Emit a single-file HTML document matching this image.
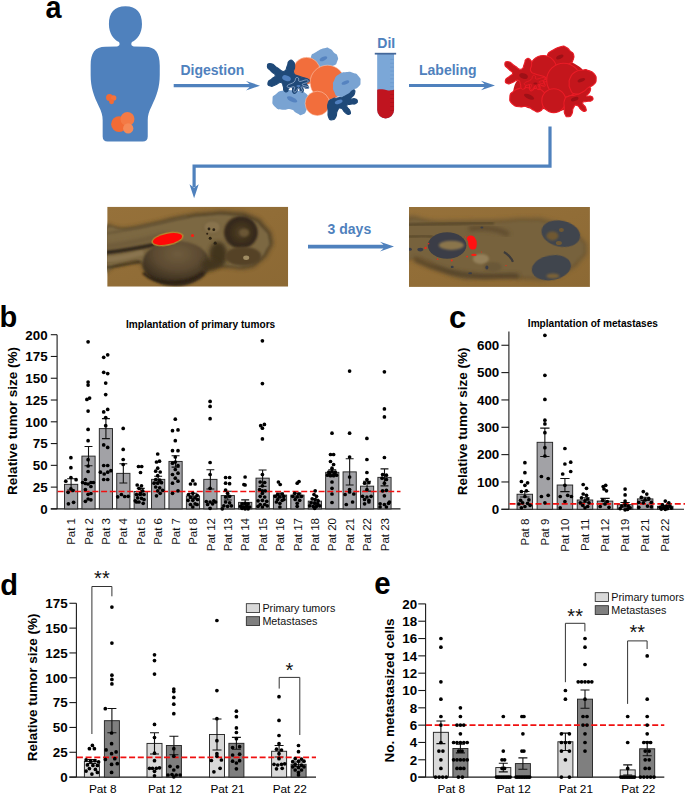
<!DOCTYPE html>
<html><head><meta charset="utf-8"><title>Figure</title>
<style>html,body{margin:0;padding:0;background:#fff;}svg{display:block;font-family:'Liberation Sans', Arial, sans-serif;}</style></head><body>
<svg width="685" height="795" viewBox="0 0 685 795">
<rect width="685" height="795" fill="#fff"/>
<text transform="translate(45.4,17.6) scale(0.93,1)" font-size="31" font-weight="bold" fill="#000">a</text>
<g transform="scale(0.2504)">
<path fill="#4f81bd" d="M 501 25 C 546 25 567 52 567 96 C 567 134 548 158 527 168 C 522 176 524 184 535 186 L 580 187 C 620 188 638 210 638 262 L 638 300 C 638 350 625 385 605 425 C 595 445 590 460 590 480 L 590 545 C 590 558 583 565 570 565 L 430 565 C 417 565 410 558 410 545 L 410 480 C 410 460 405 445 395 425 C 375 385 362 350 362 300 L 362 262 C 362 210 380 188 420 187 L 467 186 C 478 184 480 176 475 168 C 454 158 435 134 435 96 C 435 52 456 25 501 25 Z"/>
<circle cx="475.5" cy="496" r="31.5" fill="#f26b35"/><circle cx="509" cy="475" r="28" fill="#f47a45"/><circle cx="512" cy="513" r="20.5" fill="#f58a58"/>
<circle cx="437.5" cy="389" r="14" fill="#f26b35"/><circle cx="454" cy="391.5" r="10.8" fill="#f3733d"/><circle cx="445.5" cy="406.5" r="9.8" fill="#f26b35"/>
</g>
<path fill="#4f81bd" d="M 173.7 84.10000000000001 L 249.5 84.10000000000001 L 246 80.9 L 260 85.7 L 246 90.5 L 249.5 87.3 L 173.7 87.3 Z"/>
<path fill="#4f81bd" d="M 409 83.9 L 484.5 83.9 L 481 80.7 L 495 85.5 L 481 90.3 L 484.5 87.1 L 409 87.1 Z"/>
<path fill="#4f81bd" d="M 308 244.79999999999998 L 383.5 244.79999999999998 L 380 241.79999999999998 L 394 246.6 L 380 251.4 L 383.5 248.4 L 308 248.4 Z"/>
<text x="180.5" y="75.4" font-size="14" font-weight="bold" fill="#4f81bd" text-anchor="start">Digestion</text>
<text x="419" y="75.3" font-size="14" font-weight="bold" fill="#4f81bd" text-anchor="start">Labeling</text>
<text x="377.3" y="47.8" font-size="14" font-weight="bold" fill="#4f81bd" text-anchor="start">DiI</text>
<text x="327.6" y="234.4" font-size="14" font-weight="bold" fill="#4f81bd" text-anchor="start">3 days</text>
<path fill="none" stroke="#4f81bd" stroke-width="3.2" d="M 550 126.4 L 550 166.2 L 194.1 166.2 L 194.1 187"/>
<path fill="#4f81bd" d="M 194.1 198.3 L 189.5 184.3 L 194.1 187.8 L 198.7 184.3 Z"/>
<g transform="translate(260,40) scale(0.16059)" stroke-linejoin="round">
<path d="M 318.0 102.0 C 324.7 83.0 322.7 91.7 350.0 75.0 C 377.3 58.3 371.7 58.7 400.0 52.0 C 428.3 45.3 414.3 45.7 435.0 55.0 C 455.7 64.3 446.3 65.0 462.0 80.0 C 477.7 95.0 476.0 81.7 482.0 100.0 C 488.0 118.3 489.0 115.0 480.0 135.0 C 471.0 155.0 481.7 147.7 455.0 160.0 C 428.3 172.3 431.7 171.3 400.0 172.0 C 368.3 172.7 383.3 175.3 360.0 162.0 C 336.7 148.7 344.0 152.0 330.0 132.0 C 316.0 112.0 311.3 121.0 318.0 102.0 Z" fill="#79a3d2" />
<ellipse cx="395" cy="117" rx="25" ry="12" fill="#5583c0" transform="rotate(-25 395 117)"/>
<path d="M 78.0 372.0 C 79.7 345.3 76.0 356.0 100.0 337.0 C 124.0 318.0 110.0 322.0 150.0 315.0 C 190.0 308.0 176.7 311.7 220.0 316.0 C 263.3 320.3 252.7 306.7 280.0 328.0 C 307.3 349.3 298.0 346.0 302.0 380.0 C 306.0 414.0 304.3 402.0 292.0 430.0 C 279.7 458.0 285.7 455.3 265.0 464.0 C 244.3 472.7 255.0 466.7 230.0 456.0 C 205.0 445.3 220.0 439.3 190.0 432.0 C 160.0 424.7 171.7 439.0 140.0 434.0 C 108.3 429.0 115.7 437.7 95.0 417.0 C 74.3 396.3 76.3 398.7 78.0 372.0 Z" fill="#79a3d2" />
<ellipse cx="200" cy="370" rx="35" ry="14" fill="#5583c0" transform="rotate(25 200 370)"/>
<circle cx="290" cy="192" r="84" fill="#f26e3c" stroke="#fbd9c8" stroke-width="3"/>
<circle cx="420" cy="265" r="108" fill="#f26e3c" stroke="#fbd9c8" stroke-width="3"/>
<circle cx="357" cy="395" r="76" fill="#f26e3c" stroke="#fbd9c8" stroke-width="3"/>
<path d="M 425.0 392.0 C 433.7 367.7 428.3 377.7 450.0 367.0 C 471.7 356.3 463.3 367.3 490.0 360.0 C 516.7 352.7 508.3 358.3 530.0 345.0 C 551.7 331.7 537.7 332.3 555.0 320.0 C 572.3 307.7 571.0 303.0 582.0 308.0 C 593.0 313.0 593.3 316.0 588.0 335.0 C 582.7 354.0 565.3 354.7 566.0 365.0 C 566.7 375.3 576.7 361.7 590.0 366.0 C 603.3 370.3 604.0 368.0 606.0 378.0 C 608.0 388.0 609.7 388.7 596.0 396.0 C 582.3 403.3 583.7 395.3 565.0 400.0 C 546.3 404.7 541.7 396.7 540.0 410.0 C 538.3 423.3 554.7 422.7 560.0 440.0 C 565.3 457.3 566.0 458.0 556.0 462.0 C 546.0 466.0 547.0 464.3 530.0 452.0 C 513.0 439.7 521.0 429.0 505.0 425.0 C 489.0 421.0 493.0 421.7 482.0 440.0 C 471.0 458.3 482.7 461.0 472.0 480.0 C 461.3 499.0 464.7 496.3 450.0 497.0 C 435.3 497.7 436.7 501.0 428.0 482.0 C 419.3 463.0 425.0 470.0 424.0 440.0 C 423.0 410.0 416.3 416.3 425.0 392.0 Z" fill="#1f4978" stroke="#1f4978" stroke-width="7"/>
<ellipse cx="490" cy="385" rx="25" ry="12" fill="#4f7fbe" transform="rotate(-20 490 385)"/>
<path d="M 462.0 250.0 C 473.7 226.7 464.0 231.7 490.0 215.0 C 516.0 198.3 510.7 203.7 540.0 200.0 C 569.3 196.3 553.3 195.7 578.0 204.0 C 602.7 212.3 598.0 206.3 614.0 225.0 C 630.0 243.7 626.7 237.7 626.0 260.0 C 625.3 282.3 628.7 274.7 612.0 292.0 C 595.3 309.3 600.0 296.0 576.0 312.0 C 552.0 328.0 568.7 326.7 540.0 340.0 C 511.3 353.3 516.0 358.0 490.0 352.0 C 464.0 346.0 473.7 344.3 462.0 322.0 C 450.3 299.7 455.0 309.0 455.0 285.0 C 455.0 261.0 450.3 273.3 462.0 250.0 Z" fill="#79a3d2" />
<ellipse cx="532" cy="265" rx="25" ry="11" fill="#5583c0" transform="rotate(-20 532 265)"/>
<path d="M 46.0 165.0 C 46.0 149.3 48.7 144.7 70.0 148.0 C 91.3 151.3 83.3 159.3 110.0 175.0 C 136.7 190.7 130.0 200.0 150.0 195.0 C 170.0 190.0 160.0 180.7 170.0 160.0 C 180.0 139.3 168.0 142.0 180.0 133.0 C 192.0 124.0 194.0 122.3 206.0 133.0 C 218.0 143.7 214.7 141.0 216.0 165.0 C 217.3 189.0 202.0 185.0 210.0 205.0 C 218.0 225.0 213.3 213.3 240.0 225.0 C 266.7 236.7 268.0 230.0 290.0 240.0 C 312.0 250.0 306.0 245.0 306.0 255.0 C 306.0 265.0 292.0 258.3 290.0 270.0 C 288.0 281.7 300.0 279.3 300.0 290.0 C 300.0 300.7 301.7 302.0 290.0 302.0 C 278.3 302.0 271.7 285.7 265.0 290.0 C 258.3 294.3 273.3 304.3 270.0 315.0 C 266.7 325.7 265.0 327.0 255.0 322.0 C 245.0 317.0 250.0 298.7 240.0 300.0 C 230.0 301.3 236.7 317.3 225.0 326.0 C 213.3 334.7 213.3 336.3 205.0 326.0 C 196.7 315.7 208.3 303.7 200.0 295.0 C 191.7 286.3 190.0 291.7 180.0 300.0 C 170.0 308.3 180.0 314.7 170.0 320.0 C 160.0 325.3 158.3 326.0 150.0 316.0 C 141.7 306.0 151.7 307.0 145.0 290.0 C 138.3 273.0 146.7 268.3 130.0 265.0 C 113.3 261.7 116.7 272.7 95.0 280.0 C 73.3 287.3 80.0 292.0 65.0 287.0 C 50.0 282.0 46.7 280.7 50.0 265.0 C 53.3 249.3 60.0 255.0 75.0 240.0 C 90.0 225.0 96.7 235.0 95.0 220.0 C 93.3 205.0 86.3 213.3 70.0 195.0 C 53.7 176.7 46.0 180.7 46.0 165.0 Z" fill="#1f4978" stroke="#1f4978" stroke-width="7"/>
<ellipse cx="165" cy="238" rx="28" ry="17" fill="#4f7fbe" transform="rotate(20 165 238)"/>
<path d="M 172.0 282.0 C 179.5 273.8 199.9 272.7 212.0 262.0 C 224.1 251.3 217.5 241.6 224.0 236.0 C 230.5 230.4 234.9 232.9 240.0 238.0 C 245.1 243.1 234.3 255.7 246.0 258.0 C 257.7 260.3 278.1 247.1 290.0 248.0 C 301.9 248.9 303.5 255.0 297.0 262.0 C 290.5 269.0 260.8 271.0 262.0 278.0 C 263.2 285.0 294.1 286.4 302.0 292.0 C 309.9 297.6 306.3 302.0 296.0 302.0 C 285.7 302.0 265.5 288.7 258.0 292.0 C 250.5 295.3 265.9 309.5 264.0 316.0 C 262.1 322.5 255.6 324.2 250.0 320.0 C 244.4 315.8 246.5 297.5 240.0 298.0 C 233.5 298.5 229.0 317.3 222.0 322.0 C 215.0 326.7 211.9 325.0 210.0 318.0 C 208.1 311.0 221.0 296.9 214.0 292.0 C 207.0 287.1 189.8 299.3 180.0 297.0 C 170.2 294.7 164.5 290.2 172.0 282.0 Z" fill="#1f4978" stroke="#b5c9e6" stroke-width="4"/>
<ellipse cx="240" cy="286" rx="13" ry="6" fill="#4f7fbe"/>
</g>
<g transform="translate(497.6,38.5) scale(0.15738)" stroke-linejoin="round">
<path d="M 100.0 330.0 C 116.7 256.7 123.3 273.3 200.0 200.0 C 276.7 126.7 240.0 126.7 330.0 110.0 C 420.0 93.3 393.3 103.3 470.0 150.0 C 546.7 196.7 536.7 183.3 560.0 250.0 C 583.3 316.7 583.3 283.3 540.0 350.0 C 496.7 416.7 510.0 416.7 430.0 450.0 C 350.0 483.3 393.3 460.0 300.0 450.0 C 206.7 440.0 216.7 460.0 150.0 420.0 C 83.3 380.0 83.3 403.3 100.0 330.0 Z" fill="#c4161c"/>
<path d="M 318.0 102.0 C 324.7 83.0 322.7 91.7 350.0 75.0 C 377.3 58.3 371.7 58.7 400.0 52.0 C 428.3 45.3 414.3 45.7 435.0 55.0 C 455.7 64.3 446.3 65.0 462.0 80.0 C 477.7 95.0 476.0 81.7 482.0 100.0 C 488.0 118.3 489.0 115.0 480.0 135.0 C 471.0 155.0 481.7 147.7 455.0 160.0 C 428.3 172.3 431.7 171.3 400.0 172.0 C 368.3 172.7 383.3 175.3 360.0 162.0 C 336.7 148.7 344.0 152.0 330.0 132.0 C 316.0 112.0 311.3 121.0 318.0 102.0 Z" fill="#c4161c" stroke="#ea1c26" stroke-width="7"/>
<ellipse cx="395" cy="117" rx="25" ry="12" fill="#9d1016" transform="rotate(-25 395 117)"/>
<path d="M 78.0 372.0 C 79.7 345.3 76.0 356.0 100.0 337.0 C 124.0 318.0 110.0 322.0 150.0 315.0 C 190.0 308.0 176.7 311.7 220.0 316.0 C 263.3 320.3 252.7 306.7 280.0 328.0 C 307.3 349.3 298.0 346.0 302.0 380.0 C 306.0 414.0 304.3 402.0 292.0 430.0 C 279.7 458.0 285.7 455.3 265.0 464.0 C 244.3 472.7 255.0 466.7 230.0 456.0 C 205.0 445.3 220.0 439.3 190.0 432.0 C 160.0 424.7 171.7 439.0 140.0 434.0 C 108.3 429.0 115.7 437.7 95.0 417.0 C 74.3 396.3 76.3 398.7 78.0 372.0 Z" fill="#c4161c" stroke="#ea1c26" stroke-width="7"/>
<ellipse cx="200" cy="370" rx="35" ry="14" fill="#9d1016" transform="rotate(25 200 370)"/>
<circle cx="290" cy="192" r="84" fill="#c4161c" stroke="#ea1c26" stroke-width="7"/>
<circle cx="420" cy="265" r="108" fill="#c4161c" stroke="#ea1c26" stroke-width="7"/>
<circle cx="357" cy="395" r="76" fill="#c4161c" stroke="#ea1c26" stroke-width="7"/>
<path d="M 425.0 392.0 C 433.7 367.7 428.3 377.7 450.0 367.0 C 471.7 356.3 463.3 367.3 490.0 360.0 C 516.7 352.7 508.3 358.3 530.0 345.0 C 551.7 331.7 537.7 332.3 555.0 320.0 C 572.3 307.7 571.0 303.0 582.0 308.0 C 593.0 313.0 593.3 316.0 588.0 335.0 C 582.7 354.0 565.3 354.7 566.0 365.0 C 566.7 375.3 576.7 361.7 590.0 366.0 C 603.3 370.3 604.0 368.0 606.0 378.0 C 608.0 388.0 609.7 388.7 596.0 396.0 C 582.3 403.3 583.7 395.3 565.0 400.0 C 546.3 404.7 541.7 396.7 540.0 410.0 C 538.3 423.3 554.7 422.7 560.0 440.0 C 565.3 457.3 566.0 458.0 556.0 462.0 C 546.0 466.0 547.0 464.3 530.0 452.0 C 513.0 439.7 521.0 429.0 505.0 425.0 C 489.0 421.0 493.0 421.7 482.0 440.0 C 471.0 458.3 482.7 461.0 472.0 480.0 C 461.3 499.0 464.7 496.3 450.0 497.0 C 435.3 497.7 436.7 501.0 428.0 482.0 C 419.3 463.0 425.0 470.0 424.0 440.0 C 423.0 410.0 416.3 416.3 425.0 392.0 Z" fill="#c4161c" stroke="#ea1c26" stroke-width="7"/>
<ellipse cx="490" cy="385" rx="25" ry="12" fill="#9d1016" transform="rotate(-20 490 385)"/>
<path d="M 462.0 250.0 C 473.7 226.7 464.0 231.7 490.0 215.0 C 516.0 198.3 510.7 203.7 540.0 200.0 C 569.3 196.3 553.3 195.7 578.0 204.0 C 602.7 212.3 598.0 206.3 614.0 225.0 C 630.0 243.7 626.7 237.7 626.0 260.0 C 625.3 282.3 628.7 274.7 612.0 292.0 C 595.3 309.3 600.0 296.0 576.0 312.0 C 552.0 328.0 568.7 326.7 540.0 340.0 C 511.3 353.3 516.0 358.0 490.0 352.0 C 464.0 346.0 473.7 344.3 462.0 322.0 C 450.3 299.7 455.0 309.0 455.0 285.0 C 455.0 261.0 450.3 273.3 462.0 250.0 Z" fill="#c4161c" stroke="#ea1c26" stroke-width="7"/>
<ellipse cx="532" cy="265" rx="25" ry="11" fill="#9d1016" transform="rotate(-20 532 265)"/>
<path d="M 46.0 165.0 C 46.0 149.3 48.7 144.7 70.0 148.0 C 91.3 151.3 83.3 159.3 110.0 175.0 C 136.7 190.7 130.0 200.0 150.0 195.0 C 170.0 190.0 160.0 180.7 170.0 160.0 C 180.0 139.3 168.0 142.0 180.0 133.0 C 192.0 124.0 194.0 122.3 206.0 133.0 C 218.0 143.7 214.7 141.0 216.0 165.0 C 217.3 189.0 202.0 185.0 210.0 205.0 C 218.0 225.0 213.3 213.3 240.0 225.0 C 266.7 236.7 268.0 230.0 290.0 240.0 C 312.0 250.0 306.0 245.0 306.0 255.0 C 306.0 265.0 292.0 258.3 290.0 270.0 C 288.0 281.7 300.0 279.3 300.0 290.0 C 300.0 300.7 301.7 302.0 290.0 302.0 C 278.3 302.0 271.7 285.7 265.0 290.0 C 258.3 294.3 273.3 304.3 270.0 315.0 C 266.7 325.7 265.0 327.0 255.0 322.0 C 245.0 317.0 250.0 298.7 240.0 300.0 C 230.0 301.3 236.7 317.3 225.0 326.0 C 213.3 334.7 213.3 336.3 205.0 326.0 C 196.7 315.7 208.3 303.7 200.0 295.0 C 191.7 286.3 190.0 291.7 180.0 300.0 C 170.0 308.3 180.0 314.7 170.0 320.0 C 160.0 325.3 158.3 326.0 150.0 316.0 C 141.7 306.0 151.7 307.0 145.0 290.0 C 138.3 273.0 146.7 268.3 130.0 265.0 C 113.3 261.7 116.7 272.7 95.0 280.0 C 73.3 287.3 80.0 292.0 65.0 287.0 C 50.0 282.0 46.7 280.7 50.0 265.0 C 53.3 249.3 60.0 255.0 75.0 240.0 C 90.0 225.0 96.7 235.0 95.0 220.0 C 93.3 205.0 86.3 213.3 70.0 195.0 C 53.7 176.7 46.0 180.7 46.0 165.0 Z" fill="#c4161c" stroke="#ea1c26" stroke-width="7"/>
<ellipse cx="165" cy="238" rx="28" ry="17" fill="#9d1016" transform="rotate(20 165 238)"/>
<path d="M 172.0 282.0 C 179.5 273.8 199.9 272.7 212.0 262.0 C 224.1 251.3 217.5 241.6 224.0 236.0 C 230.5 230.4 234.9 232.9 240.0 238.0 C 245.1 243.1 234.3 255.7 246.0 258.0 C 257.7 260.3 278.1 247.1 290.0 248.0 C 301.9 248.9 303.5 255.0 297.0 262.0 C 290.5 269.0 260.8 271.0 262.0 278.0 C 263.2 285.0 294.1 286.4 302.0 292.0 C 309.9 297.6 306.3 302.0 296.0 302.0 C 285.7 302.0 265.5 288.7 258.0 292.0 C 250.5 295.3 265.9 309.5 264.0 316.0 C 262.1 322.5 255.6 324.2 250.0 320.0 C 244.4 315.8 246.5 297.5 240.0 298.0 C 233.5 298.5 229.0 317.3 222.0 322.0 C 215.0 326.7 211.9 325.0 210.0 318.0 C 208.1 311.0 221.0 296.9 214.0 292.0 C 207.0 287.1 189.8 299.3 180.0 297.0 C 170.2 294.7 164.5 290.2 172.0 282.0 Z" fill="#c4161c" stroke="#ea1c26" stroke-width="5"/>
<ellipse cx="240" cy="286" rx="13" ry="6" fill="#9d1016"/>
</g>
<g transform="translate(360,30) scale(0.1606)">
<path fill="#7ba7d7" d="M 107 150 L 212 150 L 212 498 A 52.5 52.5 0 0 1 107 498 Z"/>
<path fill="#c0141f" d="M 107 372 C 130 366 150 372 175 376 C 195 380 205 374 212 370 L 212 498 A 52.5 52.5 0 0 1 107 498 Z"/>
<rect x="188" y="180.0" width="22" height="4" fill="#6391c9" opacity="0.8"/>
<rect x="188" y="204.5" width="22" height="4" fill="#6391c9" opacity="0.8"/>
<rect x="188" y="229.0" width="22" height="4" fill="#6391c9" opacity="0.8"/>
<rect x="188" y="253.5" width="22" height="4" fill="#6391c9" opacity="0.8"/>
<rect x="188" y="278.0" width="22" height="4" fill="#6391c9" opacity="0.8"/>
<rect x="188" y="302.5" width="22" height="4" fill="#6391c9" opacity="0.8"/>
<rect x="188" y="327.0" width="22" height="4" fill="#6391c9" opacity="0.8"/>
<rect x="188" y="351.5" width="22" height="4" fill="#6391c9" opacity="0.8"/>
<rect x="188" y="376.0" width="22" height="4" fill="#a20f17" opacity="0.8"/>
<rect x="188" y="400.5" width="22" height="4" fill="#a20f17" opacity="0.8"/>
<rect x="188" y="425.0" width="22" height="4" fill="#a20f17" opacity="0.8"/>
<rect x="188" y="449.5" width="22" height="4" fill="#a20f17" opacity="0.8"/>
<rect x="188" y="474.0" width="22" height="4" fill="#a20f17" opacity="0.8"/>
<rect x="188" y="498.5" width="22" height="4" fill="#a20f17" opacity="0.8"/>
<rect x="92" y="142" width="133" height="11" fill="#44689a"/>
</g>
<defs>
<filter id="f05" x="-30%" y="-30%" width="160%" height="160%"><feGaussianBlur stdDeviation="0.5"/></filter>
<filter id="f08" x="-30%" y="-30%" width="160%" height="160%"><feGaussianBlur stdDeviation="0.8"/></filter>
<filter id="f12" x="-30%" y="-30%" width="160%" height="160%"><feGaussianBlur stdDeviation="1.2"/></filter>
<filter id="f2" x="-30%" y="-30%" width="160%" height="160%"><feGaussianBlur stdDeviation="2.0"/></filter>
<filter id="f3" x="-30%" y="-30%" width="160%" height="160%"><feGaussianBlur stdDeviation="3.0"/></filter>
<filter id="f5" x="-30%" y="-30%" width="160%" height="160%"><feGaussianBlur stdDeviation="5.0"/></filter>
<clipPath id="cpL"><rect x="0" y="0" width="181" height="80"/></clipPath>
<radialGradient id="yolk" cx="0.52" cy="0.3" r="0.74"><stop offset="0" stop-color="#6f5c3d"/><stop offset="0.45" stop-color="#5d4b32"/><stop offset="0.78" stop-color="#403322"/><stop offset="1" stop-color="#282015"/></radialGradient>
<radialGradient id="eye" cx="0.52" cy="0.5" r="0.52"><stop offset="0" stop-color="#54422a"/><stop offset="0.5" stop-color="#3f311c"/><stop offset="0.85" stop-color="#33271a"/><stop offset="1" stop-color="#4a3a24"/></radialGradient>
<linearGradient id="bgL" x1="0" y1="0" x2="1" y2="1"><stop offset="0" stop-color="#96713a"/><stop offset="1" stop-color="#8c6934"/></linearGradient>
</defs>
<g transform="translate(107.2,206.7)"><g clip-path="url(#cpL)">
<rect width="181" height="80" fill="url(#bgL)"/>
<path d="M -8.0 24.0 C 1.3 10.0 2.3 23.7 20.0 21.0 C 37.7 18.3 26.7 20.0 45.0 16.0 C 63.3 12.0 56.7 12.5 75.0 9.0 C 93.3 5.5 83.3 6.8 100.0 5.5 C 116.7 4.2 110.0 3.8 125.0 5.0 C 140.0 6.2 134.0 4.3 145.0 9.0 C 156.0 13.7 151.3 11.3 158.0 19.0 C 164.7 26.7 163.7 23.7 165.0 32.0 C 166.3 40.3 166.0 36.3 162.0 44.0 C 158.0 51.7 160.3 49.2 153.0 55.0 C 145.7 60.8 150.3 59.5 140.0 61.5 C 129.7 63.5 132.7 61.5 122.0 61.0 C 111.3 60.5 116.0 58.3 108.0 60.0 C 100.0 61.7 105.7 61.3 98.0 66.0 C 90.3 70.7 95.0 70.0 85.0 74.0 C 75.0 78.0 79.7 78.0 68.0 78.0 C 56.3 78.0 60.0 78.7 50.0 74.0 C 40.0 69.3 44.7 70.0 38.0 64.0 C 31.3 58.0 39.3 57.7 30.0 56.0 C 20.7 54.3 22.7 56.7 10.0 59.0 C -2.7 61.3 -2.0 74.7 -8.0 63.0 C -14.0 51.3 -17.3 38.0 -8.0 24.0 Z" fill="#4e3f28" filter="url(#f2)" opacity="0.9"/>
<path d="M -8.0 24.0 C 1.3 10.0 2.3 23.7 20.0 21.0 C 37.7 18.3 26.7 20.0 45.0 16.0 C 63.3 12.0 56.7 12.5 75.0 9.0 C 93.3 5.5 83.3 6.8 100.0 5.5 C 116.7 4.2 110.0 3.8 125.0 5.0 C 140.0 6.2 134.0 4.3 145.0 9.0 C 156.0 13.7 151.3 11.3 158.0 19.0 C 164.7 26.7 163.7 23.7 165.0 32.0 C 166.3 40.3 166.0 36.3 162.0 44.0 C 158.0 51.7 160.3 49.2 153.0 55.0 C 145.7 60.8 150.3 59.5 140.0 61.5 C 129.7 63.5 132.7 61.5 122.0 61.0 C 111.3 60.5 116.0 58.3 108.0 60.0 C 100.0 61.7 105.7 61.3 98.0 66.0 C 90.3 70.7 95.0 70.0 85.0 74.0 C 75.0 78.0 79.7 78.0 68.0 78.0 C 56.3 78.0 60.0 78.7 50.0 74.0 C 40.0 69.3 44.7 70.0 38.0 64.0 C 31.3 58.0 39.3 57.7 30.0 56.0 C 20.7 54.3 22.7 56.7 10.0 59.0 C -2.7 61.3 -2.0 74.7 -8.0 63.0 C -14.0 51.3 -17.3 38.0 -8.0 24.0 Z" fill="#7b6743" filter="url(#f12)" transform="translate(83,40) scale(0.96,0.9) translate(-83,-40)"/>
<path d="M -3 46 C 15 44 32 41 52 37" stroke="#33281a" stroke-width="4.2" fill="none" filter="url(#f12)"/>
<path d="M -3 40 C 20 38 40 33 60 27" stroke="#6a5738" stroke-width="4" fill="none" filter="url(#f2)"/>
<path d="M -3 53 C 12 52 25 49 36 46" stroke="#8a7550" stroke-width="5" fill="none" filter="url(#f12)"/>
<path d="M -3 61 C 10 60 22 57 33 55" stroke="#3d301c" stroke-width="1.8" fill="none" filter="url(#f08)"/>
<path d="M -3 27 C 25 23 50 17 80 10" stroke="#6b5838" stroke-width="2" fill="none" filter="url(#f12)"/>
<ellipse cx="69" cy="56.5" rx="33.5" ry="22.5" fill="url(#yolk)" filter="url(#f12)"/>
<path d="M 36 66 C 48 78 78 80 96 66" stroke="#2e2414" stroke-width="3" fill="none" filter="url(#f12)"/>
<ellipse cx="111" cy="48" rx="9" ry="13" fill="#42341f" filter="url(#f2)"/>
<ellipse cx="103" cy="58" rx="8" ry="6" fill="#42341f" filter="url(#f2)"/>
<ellipse cx="133.6" cy="25.7" rx="17" ry="16.4" fill="url(#eye)" filter="url(#f08)"/>
<ellipse cx="137" cy="26" rx="5" ry="4" fill="#6a5636" filter="url(#f12)"/>
<ellipse cx="136" cy="49.5" rx="18" ry="9.5" fill="#554227" filter="url(#f12)"/>
<ellipse cx="139" cy="51" rx="3" ry="2.2" fill="#a08c63" filter="url(#f05)"/>
<ellipse cx="105" cy="20.5" rx="8.5" ry="6.5" fill="#88734e" stroke="#6a5738" stroke-width="0.8" filter="url(#f08)"/>
<circle cx="101.8" cy="22.3" r="1.4" fill="#2a2012" filter="url(#f05)"/>
<circle cx="106.6" cy="23" r="1.4" fill="#2a2012" filter="url(#f05)"/>
<circle cx="103" cy="31.5" r="1.5" fill="#2a2012" filter="url(#f05)"/>
<circle cx="108" cy="36.5" r="1.6" fill="#2a2012" filter="url(#f05)"/>
<circle cx="100" cy="27" r="1" fill="#2a2012" filter="url(#f05)"/>
<ellipse cx="60.3" cy="32.3" rx="16.3" ry="6.6" fill="#b9852f" transform="rotate(-12 60.3 32.3)" filter="url(#f05)"/>
<ellipse cx="60.3" cy="32.3" rx="14.8" ry="5.2" fill="#ff0808" transform="rotate(-12 60.3 32.3)"/>
<circle cx="85.3" cy="28.7" r="1.5" fill="#ff1a10"/>
</g></g>
<g transform="translate(408.9,206.9)"><g clip-path="url(#cpL)">
<rect width="181" height="80" fill="url(#bgL)"/>
<path d="M -8.0 14.0 C 4.7 2.2 7.3 13.8 30.0 13.5 C 52.7 13.2 40.0 13.3 60.0 13.0 C 80.0 12.7 70.0 13.2 90.0 12.5 C 110.0 11.8 103.3 10.8 120.0 11.0 C 136.7 11.2 127.3 10.0 140.0 13.0 C 152.7 16.0 147.3 14.3 158.0 20.0 C 168.7 25.7 165.3 22.7 172.0 30.0 C 178.7 37.3 178.0 34.0 178.0 42.0 C 178.0 50.0 178.0 46.7 172.0 54.0 C 166.0 61.3 170.7 58.0 160.0 64.0 C 149.3 70.0 153.3 69.0 140.0 72.0 C 126.7 75.0 135.0 73.3 120.0 73.0 C 105.0 72.7 111.7 71.3 95.0 71.0 C 78.3 70.7 85.0 72.0 70.0 72.0 C 55.0 72.0 63.3 74.3 50.0 71.0 C 36.7 67.7 43.3 68.3 30.0 62.0 C 16.7 55.7 22.7 56.3 10.0 52.0 C -2.7 47.7 -2.0 61.7 -8.0 49.0 C -14.0 36.3 -20.7 25.8 -8.0 14.0 Z" fill="#6a5635" filter="url(#f2)" opacity="0.85"/>
<path d="M -8.0 14.0 C 4.7 2.2 7.3 13.8 30.0 13.5 C 52.7 13.2 40.0 13.3 60.0 13.0 C 80.0 12.7 70.0 13.2 90.0 12.5 C 110.0 11.8 103.3 10.8 120.0 11.0 C 136.7 11.2 127.3 10.0 140.0 13.0 C 152.7 16.0 147.3 14.3 158.0 20.0 C 168.7 25.7 165.3 22.7 172.0 30.0 C 178.7 37.3 178.0 34.0 178.0 42.0 C 178.0 50.0 178.0 46.7 172.0 54.0 C 166.0 61.3 170.7 58.0 160.0 64.0 C 149.3 70.0 153.3 69.0 140.0 72.0 C 126.7 75.0 135.0 73.3 120.0 73.0 C 105.0 72.7 111.7 71.3 95.0 71.0 C 78.3 70.7 85.0 72.0 70.0 72.0 C 55.0 72.0 63.3 74.3 50.0 71.0 C 36.7 67.7 43.3 68.3 30.0 62.0 C 16.7 55.7 22.7 56.3 10.0 52.0 C -2.7 47.7 -2.0 61.7 -8.0 49.0 C -14.0 36.3 -20.7 25.8 -8.0 14.0 Z" fill="#77623c" filter="url(#f12)" transform="translate(88,42) scale(0.96,0.88) translate(-88,-42)"/>
<path d="M -3 18 C 30 17 60 16 85 16" stroke="#5a482b" stroke-width="3" fill="none" filter="url(#f12)"/>
<path d="M -3 30 C 10 29 18 28 24 30" stroke="#5a482b" stroke-width="2.5" fill="none" filter="url(#f12)"/>
<path d="M 5 52 C 25 62 45 68 70 69 C 85 70 100 68 110 69" stroke="#4e3e25" stroke-width="4" fill="none" filter="url(#f2)"/>
<path d="M 60 22 C 75 20 90 22 100 28" stroke="#5f4c2e" stroke-width="5" fill="none" filter="url(#f2)"/>
<ellipse cx="72" cy="52" rx="8" ry="5" fill="#94805a" filter="url(#f12)"/>
<ellipse cx="84" cy="60" rx="9" ry="5" fill="#6b5838" filter="url(#f12)"/>
<path d="M 95 45 C 99 47 103 52 104 55" stroke="#3c3a3a" stroke-width="2.2" fill="none" filter="url(#f05)"/>
<ellipse cx="38.2" cy="38.6" rx="19.3" ry="13.2" fill="#3a3d46" filter="url(#f05)"/>
<ellipse cx="42.5" cy="38.4" rx="12.5" ry="4.6" fill="#8a744b" filter="url(#f08)"/>
<ellipse cx="1" cy="42.4" rx="2" ry="1.5" fill="#3a3d46" filter="url(#f05)"/>
<ellipse cx="11.4" cy="42.7" rx="3" ry="1.8" fill="#3a3d46" filter="url(#f05)"/>
<ellipse cx="43.3" cy="60" rx="1.5" ry="1.2" fill="#3a3d46" filter="url(#f05)"/>
<ellipse cx="73" cy="20.5" rx="1.5" ry="1" fill="#3a3d46" filter="url(#f05)"/>
<ellipse cx="78" cy="60.7" rx="1.5" ry="2" fill="#3a3d46" filter="url(#f05)"/>
<ellipse cx="61.3" cy="66.3" rx="2" ry="1" fill="#3a3d46" filter="url(#f05)"/>
<ellipse cx="151.9" cy="26.8" rx="19.6" ry="13" fill="#40444d" transform="rotate(12 151.9 26.8)" filter="url(#f05)"/>
<ellipse cx="143.5" cy="29" rx="6" ry="4.5" fill="#6f5933" filter="url(#f08)"/>
<ellipse cx="152.5" cy="23" rx="2.5" ry="2" fill="#6f5933" filter="url(#f05)"/>
<ellipse cx="150" cy="36" rx="3" ry="2" fill="#6f5933" filter="url(#f05)"/>
<ellipse cx="142.5" cy="60.8" rx="19.8" ry="12.4" fill="#40444d" transform="rotate(-10 142.5 60.8)" filter="url(#f05)"/>
<ellipse cx="144" cy="69" rx="6.5" ry="2.5" fill="#7a6238" filter="url(#f08)"/>
<path d="M 58.5 30 C 61 27.5 66 28.5 66.5 32 C 68.5 34 68 38 67.5 40 C 67 43 63 43.5 61 41.5 C 59 39 59.5 36 59 34 C 57.5 32.5 57.5 31 58.5 30 Z" fill="#ff1212"/>
<ellipse cx="65" cy="48" rx="2.8" ry="1.1" fill="#ff1a10"/>
<circle cx="16.6" cy="41" r="1.2" fill="#f0281a"/>
<circle cx="19.7" cy="36.9" r="0.8" fill="#f0281a"/>
<circle cx="28.7" cy="52.4" r="0.8" fill="#f0281a"/>
<circle cx="42.9" cy="53.5" r="1.0" fill="#f0281a"/>
<circle cx="58.2" cy="49.7" r="0.9" fill="#f0281a"/>
<circle cx="72.6" cy="45.2" r="0.5" fill="#f0281a"/>
<circle cx="97.1" cy="58.7" r="0.7" fill="#f0281a"/>
<circle cx="56.5" cy="30" r="0.6" fill="#f0281a"/>
</g></g>
<text transform="translate(-0.4,327) scale(0.97,1)" font-size="30" font-weight="bold" fill="#000">b</text>
<text x="200.6" y="327.5" font-size="10.1" font-weight="bold" text-anchor="middle" fill="#000">Implantation of primary tumors</text>
<path d="M 57.1 334.8 L 57.1 508.9" stroke="#1a1a1a" stroke-width="1.1" fill="none"/>
<path d="M 50.800000000000004 508.90 L 57.1 508.90" stroke="#1a1a1a" stroke-width="1.1"/>
<text x="47.6" y="513.70" font-size="13.4" font-weight="bold" text-anchor="end" fill="#000">0</text>
<path d="M 50.800000000000004 487.12 L 57.1 487.12" stroke="#1a1a1a" stroke-width="1.1"/>
<text x="47.6" y="491.92" font-size="13.4" font-weight="bold" text-anchor="end" fill="#000">25</text>
<path d="M 50.800000000000004 465.35 L 57.1 465.35" stroke="#1a1a1a" stroke-width="1.1"/>
<text x="47.6" y="470.15" font-size="13.4" font-weight="bold" text-anchor="end" fill="#000">50</text>
<path d="M 50.800000000000004 443.57 L 57.1 443.57" stroke="#1a1a1a" stroke-width="1.1"/>
<text x="47.6" y="448.37" font-size="13.4" font-weight="bold" text-anchor="end" fill="#000">75</text>
<path d="M 50.800000000000004 421.80 L 57.1 421.80" stroke="#1a1a1a" stroke-width="1.1"/>
<text x="47.6" y="426.60" font-size="13.4" font-weight="bold" text-anchor="end" fill="#000">100</text>
<path d="M 50.800000000000004 400.02 L 57.1 400.02" stroke="#1a1a1a" stroke-width="1.1"/>
<text x="47.6" y="404.82" font-size="13.4" font-weight="bold" text-anchor="end" fill="#000">125</text>
<path d="M 50.800000000000004 378.25 L 57.1 378.25" stroke="#1a1a1a" stroke-width="1.1"/>
<text x="47.6" y="383.05" font-size="13.4" font-weight="bold" text-anchor="end" fill="#000">150</text>
<path d="M 50.800000000000004 356.47 L 57.1 356.47" stroke="#1a1a1a" stroke-width="1.1"/>
<text x="47.6" y="361.27" font-size="13.4" font-weight="bold" text-anchor="end" fill="#000">175</text>
<path d="M 50.800000000000004 334.70 L 57.1 334.70" stroke="#1a1a1a" stroke-width="1.1"/>
<text x="47.6" y="339.50" font-size="13.4" font-weight="bold" text-anchor="end" fill="#000">200</text>
<text transform="translate(17.2,421) rotate(-90)" font-size="13.5" font-weight="bold" text-anchor="middle" fill="#000">Relative tumor size (%)</text>
<path d="M 50.8 508.9 L 400.5 508.9" stroke="#1a1a1a" stroke-width="1.1"/>
<rect x="64.50" y="484.34" width="13.2" height="24.56" fill="#a2a2a6" stroke="#262626" stroke-width="0.95"/>
<path d="M 71.10 478.68 L 71.10 490.00 M 67.14 478.68 L 75.06 478.68 M 67.14 490.00 L 75.06 490.00" stroke="#111" stroke-width="1.1" fill="none"/>
<text transform="translate(75.22,518) rotate(-90)" font-size="11.5" text-anchor="end" fill="#111">Pat 1</text>
<rect x="81.91" y="456.12" width="13.2" height="52.78" fill="#a2a2a6" stroke="#262626" stroke-width="0.95"/>
<path d="M 88.51 446.54 L 88.51 465.70 M 84.55 446.54 L 92.47 446.54 M 84.55 465.70 L 92.47 465.70" stroke="#111" stroke-width="1.1" fill="none"/>
<text transform="translate(92.63,518) rotate(-90)" font-size="11.5" text-anchor="end" fill="#111">Pat 2</text>
<rect x="99.32" y="428.59" width="13.2" height="80.31" fill="#a2a2a6" stroke="#262626" stroke-width="0.95"/>
<path d="M 105.92 418.58 L 105.92 438.61 M 101.96 418.58 L 109.88 418.58 M 101.96 438.61 L 109.88 438.61" stroke="#111" stroke-width="1.1" fill="none"/>
<text transform="translate(110.04,518) rotate(-90)" font-size="11.5" text-anchor="end" fill="#111">Pat 3</text>
<rect x="116.73" y="473.36" width="13.2" height="35.54" fill="#a2a2a6" stroke="#262626" stroke-width="0.95"/>
<path d="M 123.33 463.78 L 123.33 482.94 M 119.37 463.78 L 127.29 463.78 M 119.37 482.94 L 127.29 482.94" stroke="#111" stroke-width="1.1" fill="none"/>
<text transform="translate(127.45,518) rotate(-90)" font-size="11.5" text-anchor="end" fill="#111">Pat 4</text>
<rect x="134.14" y="491.48" width="13.2" height="17.42" fill="#a2a2a6" stroke="#262626" stroke-width="0.95"/>
<path d="M 140.74 488.34 L 140.74 494.62 M 136.78 488.34 L 144.70 488.34 M 136.78 494.62 L 144.70 494.62" stroke="#111" stroke-width="1.1" fill="none"/>
<text transform="translate(144.86,518) rotate(-90)" font-size="11.5" text-anchor="end" fill="#111">Pat 5</text>
<rect x="151.55" y="479.37" width="13.2" height="29.53" fill="#a2a2a6" stroke="#262626" stroke-width="0.95"/>
<path d="M 158.15 476.32 L 158.15 482.42 M 154.19 476.32 L 162.11 476.32 M 154.19 482.42 L 162.11 482.42" stroke="#111" stroke-width="1.1" fill="none"/>
<text transform="translate(162.27,518) rotate(-90)" font-size="11.5" text-anchor="end" fill="#111">Pat 6</text>
<rect x="168.96" y="461.43" width="13.2" height="47.47" fill="#a2a2a6" stroke="#262626" stroke-width="0.95"/>
<path d="M 175.56 455.77 L 175.56 467.09 M 171.60 455.77 L 179.52 455.77 M 171.60 467.09 L 179.52 467.09" stroke="#111" stroke-width="1.1" fill="none"/>
<text transform="translate(179.68,518) rotate(-90)" font-size="11.5" text-anchor="end" fill="#111">Pat 7</text>
<rect x="186.37" y="495.92" width="13.2" height="12.98" fill="#a2a2a6" stroke="#262626" stroke-width="0.95"/>
<path d="M 192.97 493.31 L 192.97 498.54 M 189.01 493.31 L 196.93 493.31 M 189.01 498.54 L 196.93 498.54" stroke="#111" stroke-width="1.1" fill="none"/>
<text transform="translate(197.09,518) rotate(-90)" font-size="11.5" text-anchor="end" fill="#111">Pat 8</text>
<rect x="203.78" y="479.37" width="13.2" height="29.53" fill="#a2a2a6" stroke="#262626" stroke-width="0.95"/>
<path d="M 210.38 469.79 L 210.38 488.95 M 206.42 469.79 L 214.34 469.79 M 206.42 488.95 L 214.34 488.95" stroke="#111" stroke-width="1.1" fill="none"/>
<text transform="translate(214.50,518) rotate(-90)" font-size="11.5" text-anchor="end" fill="#111">Pat 12</text>
<rect x="221.19" y="495.57" width="13.2" height="13.33" fill="#a2a2a6" stroke="#262626" stroke-width="0.95"/>
<path d="M 227.79 491.22 L 227.79 499.93 M 223.83 491.22 L 231.75 491.22 M 223.83 499.93 L 231.75 499.93" stroke="#111" stroke-width="1.1" fill="none"/>
<text transform="translate(231.91,518) rotate(-90)" font-size="11.5" text-anchor="end" fill="#111">Pat 13</text>
<rect x="238.60" y="502.37" width="13.2" height="6.53" fill="#a2a2a6" stroke="#262626" stroke-width="0.95"/>
<path d="M 245.20 499.84 L 245.20 504.89 M 241.24 499.84 L 249.16 499.84 M 241.24 504.89 L 249.16 504.89" stroke="#111" stroke-width="1.1" fill="none"/>
<text transform="translate(249.32,518) rotate(-90)" font-size="11.5" text-anchor="end" fill="#111">Pat 14</text>
<rect x="256.01" y="478.15" width="13.2" height="30.75" fill="#a2a2a6" stroke="#262626" stroke-width="0.95"/>
<path d="M 262.61 469.97 L 262.61 486.34 M 258.65 469.97 L 266.57 469.97 M 258.65 486.34 L 266.57 486.34" stroke="#111" stroke-width="1.1" fill="none"/>
<text transform="translate(266.73,518) rotate(-90)" font-size="11.5" text-anchor="end" fill="#111">Pat 15</text>
<rect x="273.42" y="495.14" width="13.2" height="13.76" fill="#a2a2a6" stroke="#262626" stroke-width="0.95"/>
<path d="M 280.02 493.13 L 280.02 497.14 M 276.06 493.13 L 283.98 493.13 M 276.06 497.14 L 283.98 497.14" stroke="#111" stroke-width="1.1" fill="none"/>
<text transform="translate(284.14,518) rotate(-90)" font-size="11.5" text-anchor="end" fill="#111">Pat 16</text>
<rect x="290.83" y="495.14" width="13.2" height="13.76" fill="#a2a2a6" stroke="#262626" stroke-width="0.95"/>
<path d="M 297.43 493.13 L 297.43 497.14 M 293.47 493.13 L 301.39 493.13 M 293.47 497.14 L 301.39 497.14" stroke="#111" stroke-width="1.1" fill="none"/>
<text transform="translate(301.55,518) rotate(-90)" font-size="11.5" text-anchor="end" fill="#111">Pat 17</text>
<rect x="308.24" y="501.15" width="13.2" height="7.75" fill="#a2a2a6" stroke="#262626" stroke-width="0.95"/>
<path d="M 314.84 499.41 L 314.84 502.89 M 310.88 499.41 L 318.80 499.41 M 310.88 502.89 L 318.80 502.89" stroke="#111" stroke-width="1.1" fill="none"/>
<text transform="translate(318.96,518) rotate(-90)" font-size="11.5" text-anchor="end" fill="#111">Pat 18</text>
<rect x="325.65" y="472.32" width="13.2" height="36.58" fill="#a2a2a6" stroke="#262626" stroke-width="0.95"/>
<path d="M 332.25 469.70 L 332.25 474.93 M 328.29 469.70 L 336.21 469.70 M 328.29 474.93 L 336.21 474.93" stroke="#111" stroke-width="1.1" fill="none"/>
<text transform="translate(336.37,518) rotate(-90)" font-size="11.5" text-anchor="end" fill="#111">Pat 20</text>
<rect x="343.06" y="471.88" width="13.2" height="37.02" fill="#a2a2a6" stroke="#262626" stroke-width="0.95"/>
<path d="M 349.66 458.82 L 349.66 484.95 M 345.70 458.82 L 353.62 458.82 M 345.70 484.95 L 353.62 484.95" stroke="#111" stroke-width="1.1" fill="none"/>
<text transform="translate(353.78,518) rotate(-90)" font-size="11.5" text-anchor="end" fill="#111">Pat 21</text>
<rect x="360.47" y="486.17" width="13.2" height="22.73" fill="#a2a2a6" stroke="#262626" stroke-width="0.95"/>
<path d="M 367.07 481.20 L 367.07 491.13 M 363.11 481.20 L 371.03 481.20 M 363.11 491.13 L 371.03 491.13" stroke="#111" stroke-width="1.1" fill="none"/>
<text transform="translate(371.19,518) rotate(-90)" font-size="11.5" text-anchor="end" fill="#111">Pat 22</text>
<rect x="377.88" y="477.37" width="13.2" height="31.53" fill="#a2a2a6" stroke="#262626" stroke-width="0.95"/>
<path d="M 384.48 468.83 L 384.48 485.91 M 380.52 468.83 L 388.44 468.83 M 380.52 485.91 L 388.44 485.91" stroke="#111" stroke-width="1.1" fill="none"/>
<text transform="translate(388.60,518) rotate(-90)" font-size="11.5" text-anchor="end" fill="#111">Pat 23</text>
<path d="M 57.6 491.5 L 400.5 491.5" stroke="#f01010" stroke-width="1.7" stroke-dasharray="6 2.7" fill="none"/>
<circle cx="70.9" cy="457.7" r="1.85" fill="#000"/>
<circle cx="70.9" cy="467.7" r="1.85" fill="#000"/>
<circle cx="70.9" cy="477.5" r="1.85" fill="#000"/>
<circle cx="65.8" cy="481.2" r="1.85" fill="#000"/>
<circle cx="76.1" cy="479.7" r="1.85" fill="#000"/>
<circle cx="68.1" cy="492.3" r="1.85" fill="#000"/>
<circle cx="72.9" cy="490.5" r="1.85" fill="#000"/>
<circle cx="68.4" cy="503.8" r="1.85" fill="#000"/>
<circle cx="73.6" cy="502.3" r="1.85" fill="#000"/>
<circle cx="70.9" cy="488.8" r="1.85" fill="#000"/>
<circle cx="88.1" cy="341.8" r="1.85" fill="#000"/>
<circle cx="88.1" cy="382.1" r="1.85" fill="#000"/>
<circle cx="88.1" cy="385.1" r="1.85" fill="#000"/>
<circle cx="86.9" cy="399.4" r="1.85" fill="#000"/>
<circle cx="89.6" cy="398.1" r="1.85" fill="#000"/>
<circle cx="88.1" cy="411.1" r="1.85" fill="#000"/>
<circle cx="88.1" cy="429.4" r="1.85" fill="#000"/>
<circle cx="88.1" cy="440.7" r="1.85" fill="#000"/>
<circle cx="88.1" cy="459.7" r="1.85" fill="#000"/>
<circle cx="88.1" cy="466.0" r="1.85" fill="#000"/>
<circle cx="88.1" cy="471.5" r="1.85" fill="#000"/>
<circle cx="85.4" cy="479.5" r="1.85" fill="#000"/>
<circle cx="82.6" cy="482.5" r="1.85" fill="#000"/>
<circle cx="85.4" cy="483.5" r="1.85" fill="#000"/>
<circle cx="88.1" cy="484.0" r="1.85" fill="#000"/>
<circle cx="90.9" cy="482.5" r="1.85" fill="#000"/>
<circle cx="93.4" cy="482.5" r="1.85" fill="#000"/>
<circle cx="90.9" cy="486.5" r="1.85" fill="#000"/>
<circle cx="85.4" cy="489.5" r="1.85" fill="#000"/>
<circle cx="88.1" cy="494.3" r="1.85" fill="#000"/>
<circle cx="90.9" cy="493.5" r="1.85" fill="#000"/>
<circle cx="85.4" cy="501.3" r="1.85" fill="#000"/>
<circle cx="88.1" cy="499.0" r="1.85" fill="#000"/>
<circle cx="90.9" cy="499.8" r="1.85" fill="#000"/>
<circle cx="103.7" cy="357.3" r="1.85" fill="#000"/>
<circle cx="107.7" cy="354.8" r="1.85" fill="#000"/>
<circle cx="103.7" cy="372.3" r="1.85" fill="#000"/>
<circle cx="107.7" cy="373.6" r="1.85" fill="#000"/>
<circle cx="105.7" cy="383.1" r="1.85" fill="#000"/>
<circle cx="105.7" cy="394.6" r="1.85" fill="#000"/>
<circle cx="103.7" cy="411.9" r="1.85" fill="#000"/>
<circle cx="107.7" cy="409.4" r="1.85" fill="#000"/>
<circle cx="105.7" cy="417.6" r="1.85" fill="#000"/>
<circle cx="105.7" cy="425.7" r="1.85" fill="#000"/>
<circle cx="103.7" cy="444.9" r="1.85" fill="#000"/>
<circle cx="107.7" cy="447.4" r="1.85" fill="#000"/>
<circle cx="103.7" cy="465.5" r="1.85" fill="#000"/>
<circle cx="107.7" cy="465.5" r="1.85" fill="#000"/>
<circle cx="100.4" cy="472.2" r="1.85" fill="#000"/>
<circle cx="104.2" cy="474.0" r="1.85" fill="#000"/>
<circle cx="107.7" cy="472.2" r="1.85" fill="#000"/>
<circle cx="110.9" cy="470.7" r="1.85" fill="#000"/>
<circle cx="103.7" cy="479.5" r="1.85" fill="#000"/>
<circle cx="107.7" cy="479.5" r="1.85" fill="#000"/>
<circle cx="123.2" cy="428.4" r="1.85" fill="#000"/>
<circle cx="123.2" cy="449.4" r="1.85" fill="#000"/>
<circle cx="123.2" cy="459.5" r="1.85" fill="#000"/>
<circle cx="123.2" cy="464.5" r="1.85" fill="#000"/>
<circle cx="117.7" cy="496.8" r="1.85" fill="#000"/>
<circle cx="121.4" cy="494.5" r="1.85" fill="#000"/>
<circle cx="124.7" cy="496.5" r="1.85" fill="#000"/>
<circle cx="128.2" cy="496.3" r="1.85" fill="#000"/>
<circle cx="138.5" cy="466.5" r="1.85" fill="#000"/>
<circle cx="141.7" cy="466.5" r="1.85" fill="#000"/>
<circle cx="140.5" cy="472.5" r="1.85" fill="#000"/>
<circle cx="137.2" cy="485.0" r="1.85" fill="#000"/>
<circle cx="141.5" cy="485.8" r="1.85" fill="#000"/>
<circle cx="139.0" cy="488.3" r="1.85" fill="#000"/>
<circle cx="142.7" cy="490.8" r="1.85" fill="#000"/>
<circle cx="136.5" cy="494.5" r="1.85" fill="#000"/>
<circle cx="140.2" cy="494.5" r="1.85" fill="#000"/>
<circle cx="144.0" cy="494.5" r="1.85" fill="#000"/>
<circle cx="137.7" cy="497.8" r="1.85" fill="#000"/>
<circle cx="141.5" cy="498.3" r="1.85" fill="#000"/>
<circle cx="135.2" cy="500.8" r="1.85" fill="#000"/>
<circle cx="139.0" cy="502.0" r="1.85" fill="#000"/>
<circle cx="143.2" cy="503.3" r="1.85" fill="#000"/>
<circle cx="136.5" cy="502.0" r="1.85" fill="#000"/>
<circle cx="140.5" cy="493.3" r="1.85" fill="#000"/>
<circle cx="144.0" cy="499.5" r="1.85" fill="#000"/>
<circle cx="157.7" cy="454.0" r="1.85" fill="#000"/>
<circle cx="156.5" cy="462.0" r="1.85" fill="#000"/>
<circle cx="159.5" cy="461.2" r="1.85" fill="#000"/>
<circle cx="157.7" cy="468.2" r="1.85" fill="#000"/>
<circle cx="155.7" cy="471.2" r="1.85" fill="#000"/>
<circle cx="160.2" cy="472.0" r="1.85" fill="#000"/>
<circle cx="157.7" cy="475.7" r="1.85" fill="#000"/>
<circle cx="155.7" cy="479.5" r="1.85" fill="#000"/>
<circle cx="159.7" cy="480.2" r="1.85" fill="#000"/>
<circle cx="154.0" cy="483.2" r="1.85" fill="#000"/>
<circle cx="157.7" cy="483.2" r="1.85" fill="#000"/>
<circle cx="161.5" cy="482.7" r="1.85" fill="#000"/>
<circle cx="155.7" cy="487.0" r="1.85" fill="#000"/>
<circle cx="159.7" cy="487.8" r="1.85" fill="#000"/>
<circle cx="162.7" cy="490.3" r="1.85" fill="#000"/>
<circle cx="157.7" cy="490.8" r="1.85" fill="#000"/>
<circle cx="156.5" cy="495.8" r="1.85" fill="#000"/>
<circle cx="160.2" cy="493.3" r="1.85" fill="#000"/>
<circle cx="175.3" cy="419.2" r="1.85" fill="#000"/>
<circle cx="172.5" cy="430.7" r="1.85" fill="#000"/>
<circle cx="178.0" cy="429.9" r="1.85" fill="#000"/>
<circle cx="175.3" cy="440.7" r="1.85" fill="#000"/>
<circle cx="172.5" cy="450.7" r="1.85" fill="#000"/>
<circle cx="178.0" cy="450.7" r="1.85" fill="#000"/>
<circle cx="175.3" cy="457.0" r="1.85" fill="#000"/>
<circle cx="172.5" cy="463.2" r="1.85" fill="#000"/>
<circle cx="178.0" cy="465.7" r="1.85" fill="#000"/>
<circle cx="175.3" cy="469.5" r="1.85" fill="#000"/>
<circle cx="172.5" cy="474.5" r="1.85" fill="#000"/>
<circle cx="178.0" cy="473.2" r="1.85" fill="#000"/>
<circle cx="175.3" cy="478.2" r="1.85" fill="#000"/>
<circle cx="172.5" cy="483.2" r="1.85" fill="#000"/>
<circle cx="178.0" cy="481.2" r="1.85" fill="#000"/>
<circle cx="172.5" cy="493.3" r="1.85" fill="#000"/>
<circle cx="178.0" cy="490.8" r="1.85" fill="#000"/>
<circle cx="175.3" cy="462.0" r="1.85" fill="#000"/>
<circle cx="192.8" cy="480.7" r="1.85" fill="#000"/>
<circle cx="190.5" cy="484.0" r="1.85" fill="#000"/>
<circle cx="195.1" cy="484.0" r="1.85" fill="#000"/>
<circle cx="188.5" cy="494.5" r="1.85" fill="#000"/>
<circle cx="192.8" cy="493.3" r="1.85" fill="#000"/>
<circle cx="197.1" cy="495.3" r="1.85" fill="#000"/>
<circle cx="190.5" cy="497.0" r="1.85" fill="#000"/>
<circle cx="195.1" cy="497.8" r="1.85" fill="#000"/>
<circle cx="188.0" cy="500.3" r="1.85" fill="#000"/>
<circle cx="192.8" cy="500.3" r="1.85" fill="#000"/>
<circle cx="197.6" cy="499.5" r="1.85" fill="#000"/>
<circle cx="190.5" cy="504.5" r="1.85" fill="#000"/>
<circle cx="195.1" cy="503.8" r="1.85" fill="#000"/>
<circle cx="192.8" cy="507.0" r="1.85" fill="#000"/>
<circle cx="197.1" cy="504.5" r="1.85" fill="#000"/>
<circle cx="210.1" cy="401.4" r="1.85" fill="#000"/>
<circle cx="210.1" cy="406.4" r="1.85" fill="#000"/>
<circle cx="210.1" cy="418.7" r="1.85" fill="#000"/>
<circle cx="210.1" cy="462.5" r="1.85" fill="#000"/>
<circle cx="210.1" cy="474.5" r="1.85" fill="#000"/>
<circle cx="210.1" cy="488.3" r="1.85" fill="#000"/>
<circle cx="206.3" cy="501.5" r="1.85" fill="#000"/>
<circle cx="210.1" cy="502.0" r="1.85" fill="#000"/>
<circle cx="213.8" cy="500.8" r="1.85" fill="#000"/>
<circle cx="207.6" cy="504.5" r="1.85" fill="#000"/>
<circle cx="212.6" cy="503.8" r="1.85" fill="#000"/>
<circle cx="210.1" cy="508.3" r="1.85" fill="#000"/>
<circle cx="215.6" cy="502.0" r="1.85" fill="#000"/>
<circle cx="225.6" cy="477.5" r="1.85" fill="#000"/>
<circle cx="229.6" cy="477.5" r="1.85" fill="#000"/>
<circle cx="225.6" cy="483.2" r="1.85" fill="#000"/>
<circle cx="229.6" cy="483.7" r="1.85" fill="#000"/>
<circle cx="225.6" cy="490.0" r="1.85" fill="#000"/>
<circle cx="227.6" cy="493.3" r="1.85" fill="#000"/>
<circle cx="225.6" cy="497.0" r="1.85" fill="#000"/>
<circle cx="229.6" cy="496.3" r="1.85" fill="#000"/>
<circle cx="225.6" cy="502.0" r="1.85" fill="#000"/>
<circle cx="229.6" cy="502.8" r="1.85" fill="#000"/>
<circle cx="223.8" cy="505.8" r="1.85" fill="#000"/>
<circle cx="227.6" cy="506.3" r="1.85" fill="#000"/>
<circle cx="231.4" cy="505.8" r="1.85" fill="#000"/>
<circle cx="222.3" cy="508.8" r="1.85" fill="#000"/>
<circle cx="245.1" cy="477.0" r="1.85" fill="#000"/>
<circle cx="245.1" cy="485.0" r="1.85" fill="#000"/>
<circle cx="243.9" cy="484.5" r="1.85" fill="#000"/>
<circle cx="242.1" cy="503.8" r="1.85" fill="#000"/>
<circle cx="245.1" cy="503.3" r="1.85" fill="#000"/>
<circle cx="248.1" cy="503.8" r="1.85" fill="#000"/>
<circle cx="240.6" cy="506.3" r="1.85" fill="#000"/>
<circle cx="243.6" cy="507.0" r="1.85" fill="#000"/>
<circle cx="246.6" cy="506.3" r="1.85" fill="#000"/>
<circle cx="249.6" cy="507.0" r="1.85" fill="#000"/>
<circle cx="245.1" cy="508.8" r="1.85" fill="#000"/>
<circle cx="242.1" cy="508.3" r="1.85" fill="#000"/>
<circle cx="248.1" cy="508.8" r="1.85" fill="#000"/>
<circle cx="262.4" cy="340.8" r="1.85" fill="#000"/>
<circle cx="262.4" cy="383.6" r="1.85" fill="#000"/>
<circle cx="260.7" cy="425.7" r="1.85" fill="#000"/>
<circle cx="264.4" cy="424.4" r="1.85" fill="#000"/>
<circle cx="262.4" cy="428.2" r="1.85" fill="#000"/>
<circle cx="262.4" cy="438.9" r="1.85" fill="#000"/>
<circle cx="262.4" cy="474.5" r="1.85" fill="#000"/>
<circle cx="260.2" cy="482.0" r="1.85" fill="#000"/>
<circle cx="264.7" cy="482.5" r="1.85" fill="#000"/>
<circle cx="262.4" cy="485.8" r="1.85" fill="#000"/>
<circle cx="259.6" cy="489.5" r="1.85" fill="#000"/>
<circle cx="265.2" cy="490.8" r="1.85" fill="#000"/>
<circle cx="262.4" cy="493.3" r="1.85" fill="#000"/>
<circle cx="260.2" cy="496.3" r="1.85" fill="#000"/>
<circle cx="264.7" cy="497.0" r="1.85" fill="#000"/>
<circle cx="258.1" cy="500.8" r="1.85" fill="#000"/>
<circle cx="262.4" cy="500.3" r="1.85" fill="#000"/>
<circle cx="266.7" cy="501.3" r="1.85" fill="#000"/>
<circle cx="260.2" cy="504.5" r="1.85" fill="#000"/>
<circle cx="264.7" cy="504.5" r="1.85" fill="#000"/>
<circle cx="258.1" cy="506.3" r="1.85" fill="#000"/>
<circle cx="262.4" cy="507.0" r="1.85" fill="#000"/>
<circle cx="267.2" cy="505.8" r="1.85" fill="#000"/>
<circle cx="262.4" cy="490.8" r="1.85" fill="#000"/>
<circle cx="278.4" cy="482.0" r="1.85" fill="#000"/>
<circle cx="280.2" cy="484.5" r="1.85" fill="#000"/>
<circle cx="277.7" cy="494.5" r="1.85" fill="#000"/>
<circle cx="282.2" cy="494.0" r="1.85" fill="#000"/>
<circle cx="275.2" cy="496.3" r="1.85" fill="#000"/>
<circle cx="279.7" cy="497.0" r="1.85" fill="#000"/>
<circle cx="283.9" cy="496.3" r="1.85" fill="#000"/>
<circle cx="277.7" cy="499.5" r="1.85" fill="#000"/>
<circle cx="282.2" cy="500.3" r="1.85" fill="#000"/>
<circle cx="279.9" cy="503.3" r="1.85" fill="#000"/>
<circle cx="276.4" cy="502.0" r="1.85" fill="#000"/>
<circle cx="283.9" cy="499.5" r="1.85" fill="#000"/>
<circle cx="279.9" cy="507.0" r="1.85" fill="#000"/>
<circle cx="299.0" cy="481.5" r="1.85" fill="#000"/>
<circle cx="297.2" cy="483.2" r="1.85" fill="#000"/>
<circle cx="294.7" cy="493.3" r="1.85" fill="#000"/>
<circle cx="299.0" cy="494.0" r="1.85" fill="#000"/>
<circle cx="292.7" cy="496.3" r="1.85" fill="#000"/>
<circle cx="297.2" cy="497.0" r="1.85" fill="#000"/>
<circle cx="301.5" cy="496.3" r="1.85" fill="#000"/>
<circle cx="295.2" cy="499.5" r="1.85" fill="#000"/>
<circle cx="299.7" cy="500.3" r="1.85" fill="#000"/>
<circle cx="297.2" cy="503.3" r="1.85" fill="#000"/>
<circle cx="297.2" cy="506.3" r="1.85" fill="#000"/>
<circle cx="315.2" cy="490.8" r="1.85" fill="#000"/>
<circle cx="314.0" cy="494.5" r="1.85" fill="#000"/>
<circle cx="316.5" cy="496.3" r="1.85" fill="#000"/>
<circle cx="312.2" cy="498.8" r="1.85" fill="#000"/>
<circle cx="315.2" cy="499.5" r="1.85" fill="#000"/>
<circle cx="318.2" cy="500.8" r="1.85" fill="#000"/>
<circle cx="311.0" cy="502.8" r="1.85" fill="#000"/>
<circle cx="314.7" cy="503.3" r="1.85" fill="#000"/>
<circle cx="317.7" cy="503.8" r="1.85" fill="#000"/>
<circle cx="309.7" cy="505.8" r="1.85" fill="#000"/>
<circle cx="313.2" cy="506.3" r="1.85" fill="#000"/>
<circle cx="316.5" cy="506.3" r="1.85" fill="#000"/>
<circle cx="319.7" cy="505.8" r="1.85" fill="#000"/>
<circle cx="314.7" cy="508.3" r="1.85" fill="#000"/>
<circle cx="332.0" cy="433.2" r="1.85" fill="#000"/>
<circle cx="330.5" cy="454.5" r="1.85" fill="#000"/>
<circle cx="333.6" cy="454.5" r="1.85" fill="#000"/>
<circle cx="330.5" cy="461.5" r="1.85" fill="#000"/>
<circle cx="333.6" cy="464.5" r="1.85" fill="#000"/>
<circle cx="332.0" cy="468.2" r="1.85" fill="#000"/>
<circle cx="328.8" cy="472.0" r="1.85" fill="#000"/>
<circle cx="332.0" cy="471.2" r="1.85" fill="#000"/>
<circle cx="335.3" cy="472.0" r="1.85" fill="#000"/>
<circle cx="327.5" cy="475.2" r="1.85" fill="#000"/>
<circle cx="330.5" cy="475.7" r="1.85" fill="#000"/>
<circle cx="333.6" cy="475.7" r="1.85" fill="#000"/>
<circle cx="336.6" cy="475.2" r="1.85" fill="#000"/>
<circle cx="332.0" cy="482.0" r="1.85" fill="#000"/>
<circle cx="332.0" cy="488.3" r="1.85" fill="#000"/>
<circle cx="332.0" cy="494.0" r="1.85" fill="#000"/>
<circle cx="332.0" cy="502.5" r="1.85" fill="#000"/>
<circle cx="329.5" cy="473.2" r="1.85" fill="#000"/>
<circle cx="334.6" cy="473.7" r="1.85" fill="#000"/>
<circle cx="349.6" cy="371.1" r="1.85" fill="#000"/>
<circle cx="349.6" cy="433.2" r="1.85" fill="#000"/>
<circle cx="349.6" cy="457.0" r="1.85" fill="#000"/>
<circle cx="349.6" cy="477.0" r="1.85" fill="#000"/>
<circle cx="349.6" cy="489.5" r="1.85" fill="#000"/>
<circle cx="345.1" cy="494.5" r="1.85" fill="#000"/>
<circle cx="353.8" cy="494.0" r="1.85" fill="#000"/>
<circle cx="349.6" cy="492.0" r="1.85" fill="#000"/>
<circle cx="346.3" cy="504.5" r="1.85" fill="#000"/>
<circle cx="352.6" cy="502.0" r="1.85" fill="#000"/>
<circle cx="366.9" cy="438.4" r="1.85" fill="#000"/>
<circle cx="366.9" cy="459.5" r="1.85" fill="#000"/>
<circle cx="366.9" cy="472.5" r="1.85" fill="#000"/>
<circle cx="366.9" cy="479.5" r="1.85" fill="#000"/>
<circle cx="364.6" cy="483.2" r="1.85" fill="#000"/>
<circle cx="368.9" cy="482.7" r="1.85" fill="#000"/>
<circle cx="366.9" cy="489.5" r="1.85" fill="#000"/>
<circle cx="362.6" cy="496.3" r="1.85" fill="#000"/>
<circle cx="366.9" cy="497.0" r="1.85" fill="#000"/>
<circle cx="371.1" cy="496.3" r="1.85" fill="#000"/>
<circle cx="364.6" cy="499.5" r="1.85" fill="#000"/>
<circle cx="368.9" cy="500.3" r="1.85" fill="#000"/>
<circle cx="364.6" cy="503.8" r="1.85" fill="#000"/>
<circle cx="368.9" cy="502.0" r="1.85" fill="#000"/>
<circle cx="384.4" cy="371.8" r="1.85" fill="#000"/>
<circle cx="384.4" cy="408.9" r="1.85" fill="#000"/>
<circle cx="384.4" cy="416.9" r="1.85" fill="#000"/>
<circle cx="384.4" cy="457.5" r="1.85" fill="#000"/>
<circle cx="382.6" cy="474.5" r="1.85" fill="#000"/>
<circle cx="386.4" cy="475.2" r="1.85" fill="#000"/>
<circle cx="382.1" cy="478.2" r="1.85" fill="#000"/>
<circle cx="386.4" cy="479.5" r="1.85" fill="#000"/>
<circle cx="384.4" cy="483.2" r="1.85" fill="#000"/>
<circle cx="382.6" cy="490.8" r="1.85" fill="#000"/>
<circle cx="386.4" cy="490.3" r="1.85" fill="#000"/>
<circle cx="384.4" cy="495.8" r="1.85" fill="#000"/>
<circle cx="380.1" cy="503.8" r="1.85" fill="#000"/>
<circle cx="384.4" cy="504.5" r="1.85" fill="#000"/>
<circle cx="388.6" cy="503.3" r="1.85" fill="#000"/>
<circle cx="380.1" cy="507.0" r="1.85" fill="#000"/>
<circle cx="386.4" cy="507.0" r="1.85" fill="#000"/>
<circle cx="389.4" cy="502.0" r="1.85" fill="#000"/>
<text transform="translate(448.9,327.6) scale(1.0,1)" font-size="31" font-weight="bold" fill="#000">c</text>
<text x="592.9" y="327.2" font-size="10.1" font-weight="bold" text-anchor="middle" fill="#000">Implantation of metastases</text>
<path d="M 508.9 331.4 L 508.9 509.3" stroke="#1a1a1a" stroke-width="1.1" fill="none"/>
<path d="M 501.4 509.30 L 508.9 509.30" stroke="#1a1a1a" stroke-width="1.1"/>
<text x="499.3" y="514.10" font-size="13.4" font-weight="bold" text-anchor="end" fill="#000">0</text>
<path d="M 501.4 481.96 L 508.9 481.96" stroke="#1a1a1a" stroke-width="1.1"/>
<text x="499.3" y="486.76" font-size="13.4" font-weight="bold" text-anchor="end" fill="#000">100</text>
<path d="M 501.4 454.62 L 508.9 454.62" stroke="#1a1a1a" stroke-width="1.1"/>
<text x="499.3" y="459.42" font-size="13.4" font-weight="bold" text-anchor="end" fill="#000">200</text>
<path d="M 501.4 427.28 L 508.9 427.28" stroke="#1a1a1a" stroke-width="1.1"/>
<text x="499.3" y="432.08" font-size="13.4" font-weight="bold" text-anchor="end" fill="#000">300</text>
<path d="M 501.4 399.94 L 508.9 399.94" stroke="#1a1a1a" stroke-width="1.1"/>
<text x="499.3" y="404.74" font-size="13.4" font-weight="bold" text-anchor="end" fill="#000">400</text>
<path d="M 501.4 372.60 L 508.9 372.60" stroke="#1a1a1a" stroke-width="1.1"/>
<text x="499.3" y="377.40" font-size="13.4" font-weight="bold" text-anchor="end" fill="#000">500</text>
<path d="M 501.4 345.26 L 508.9 345.26" stroke="#1a1a1a" stroke-width="1.1"/>
<text x="499.3" y="350.06" font-size="13.4" font-weight="bold" text-anchor="end" fill="#000">600</text>
<text transform="translate(467.3,421.4) rotate(-90)" font-size="13.5" font-weight="bold" text-anchor="middle" fill="#000">Relative tumor size (%)</text>
<path d="M 501.4 509.3 L 684 509.3" stroke="#1a1a1a" stroke-width="1.1"/>
<rect x="517.05" y="494.26" width="15.5" height="15.04" fill="#a2a2a6" stroke="#262626" stroke-width="0.95"/>
<path d="M 524.80 491.53 L 524.80 497.00 M 520.15 491.53 L 529.45 491.53 M 520.15 497.00 L 529.45 497.00" stroke="#111" stroke-width="1.1" fill="none"/>
<text transform="translate(528.92,518.6) rotate(-90)" font-size="11.5" text-anchor="end" fill="#111">Pat 8</text>
<rect x="537.11" y="442.32" width="15.5" height="66.98" fill="#a2a2a6" stroke="#262626" stroke-width="0.95"/>
<path d="M 544.86 428.10 L 544.86 456.53 M 540.21 428.10 L 549.51 428.10 M 540.21 456.53 L 549.51 456.53" stroke="#111" stroke-width="1.1" fill="none"/>
<text transform="translate(548.98,518.6) rotate(-90)" font-size="11.5" text-anchor="end" fill="#111">Pat 9</text>
<rect x="557.17" y="485.02" width="15.5" height="24.28" fill="#a2a2a6" stroke="#262626" stroke-width="0.95"/>
<path d="M 564.92 478.46 L 564.92 491.58 M 560.27 478.46 L 569.57 478.46 M 560.27 491.58 L 569.57 491.58" stroke="#111" stroke-width="1.1" fill="none"/>
<text transform="translate(569.04,518.6) rotate(-90)" font-size="11.5" text-anchor="end" fill="#111">Pat 10</text>
<rect x="577.23" y="500.00" width="15.5" height="9.30" fill="#a2a2a6" stroke="#262626" stroke-width="0.95"/>
<path d="M 584.98 497.82 L 584.98 502.19 M 580.33 497.82 L 589.63 497.82 M 580.33 502.19 L 589.63 502.19" stroke="#111" stroke-width="1.1" fill="none"/>
<text transform="translate(589.10,518.6) rotate(-90)" font-size="11.5" text-anchor="end" fill="#111">Pat 11</text>
<rect x="597.29" y="501.10" width="15.5" height="8.20" fill="#a2a2a6" stroke="#262626" stroke-width="0.95"/>
<path d="M 605.04 498.36 L 605.04 503.83 M 600.39 498.36 L 609.69 498.36 M 600.39 503.83 L 609.69 503.83" stroke="#111" stroke-width="1.1" fill="none"/>
<text transform="translate(609.16,518.6) rotate(-90)" font-size="11.5" text-anchor="end" fill="#111">Pat 12</text>
<rect x="617.35" y="504.65" width="15.5" height="4.65" fill="#a2a2a6" stroke="#262626" stroke-width="0.95"/>
<path d="M 625.10 502.47 L 625.10 506.84 M 620.45 502.47 L 629.75 502.47 M 620.45 506.84 L 629.75 506.84" stroke="#111" stroke-width="1.1" fill="none"/>
<text transform="translate(629.22,518.6) rotate(-90)" font-size="11.5" text-anchor="end" fill="#111">Pat 19</text>
<rect x="637.41" y="498.91" width="15.5" height="10.39" fill="#a2a2a6" stroke="#262626" stroke-width="0.95"/>
<path d="M 645.16 497.27 L 645.16 500.55 M 640.51 497.27 L 649.81 497.27 M 640.51 500.55 L 649.81 500.55" stroke="#111" stroke-width="1.1" fill="none"/>
<text transform="translate(649.28,518.6) rotate(-90)" font-size="11.5" text-anchor="end" fill="#111">Pat 21</text>
<rect x="657.47" y="506.29" width="15.5" height="3.01" fill="#a2a2a6" stroke="#262626" stroke-width="0.95"/>
<path d="M 665.22 505.47 L 665.22 507.11 M 660.57 505.47 L 669.87 505.47 M 660.57 507.11 L 669.87 507.11" stroke="#111" stroke-width="1.1" fill="none"/>
<text transform="translate(669.34,518.6) rotate(-90)" font-size="11.5" text-anchor="end" fill="#111">Pat 22</text>
<path d="M 509.5 503.9 L 685 503.9" stroke="#f01010" stroke-width="1.7" stroke-dasharray="6 2.7" fill="none"/>
<circle cx="524.9" cy="462.7" r="1.85" fill="#000"/>
<circle cx="524.9" cy="472.7" r="1.85" fill="#000"/>
<circle cx="521.4" cy="481.5" r="1.85" fill="#000"/>
<circle cx="527.6" cy="482.8" r="1.85" fill="#000"/>
<circle cx="524.9" cy="485.3" r="1.85" fill="#000"/>
<circle cx="521.4" cy="491.5" r="1.85" fill="#000"/>
<circle cx="526.4" cy="490.8" r="1.85" fill="#000"/>
<circle cx="524.9" cy="496.5" r="1.85" fill="#000"/>
<circle cx="520.6" cy="500.3" r="1.85" fill="#000"/>
<circle cx="528.9" cy="499.8" r="1.85" fill="#000"/>
<circle cx="522.6" cy="502.8" r="1.85" fill="#000"/>
<circle cx="527.6" cy="503.3" r="1.85" fill="#000"/>
<circle cx="518.9" cy="504.0" r="1.85" fill="#000"/>
<circle cx="524.9" cy="506.5" r="1.85" fill="#000"/>
<circle cx="530.1" cy="505.3" r="1.85" fill="#000"/>
<circle cx="521.4" cy="507.8" r="1.85" fill="#000"/>
<circle cx="544.9" cy="335.3" r="1.85" fill="#000"/>
<circle cx="544.9" cy="375.3" r="1.85" fill="#000"/>
<circle cx="544.9" cy="399.4" r="1.85" fill="#000"/>
<circle cx="544.9" cy="420.2" r="1.85" fill="#000"/>
<circle cx="544.9" cy="423.9" r="1.85" fill="#000"/>
<circle cx="544.9" cy="432.7" r="1.85" fill="#000"/>
<circle cx="544.9" cy="447.7" r="1.85" fill="#000"/>
<circle cx="544.9" cy="456.0" r="1.85" fill="#000"/>
<circle cx="541.4" cy="476.5" r="1.85" fill="#000"/>
<circle cx="548.2" cy="478.5" r="1.85" fill="#000"/>
<circle cx="541.4" cy="496.5" r="1.85" fill="#000"/>
<circle cx="548.2" cy="495.3" r="1.85" fill="#000"/>
<circle cx="544.9" cy="502.8" r="1.85" fill="#000"/>
<circle cx="564.9" cy="448.5" r="1.85" fill="#000"/>
<circle cx="564.9" cy="464.0" r="1.85" fill="#000"/>
<circle cx="570.7" cy="462.2" r="1.85" fill="#000"/>
<circle cx="562.7" cy="474.0" r="1.85" fill="#000"/>
<circle cx="570.7" cy="471.5" r="1.85" fill="#000"/>
<circle cx="564.9" cy="485.3" r="1.85" fill="#000"/>
<circle cx="560.2" cy="496.5" r="1.85" fill="#000"/>
<circle cx="567.7" cy="495.3" r="1.85" fill="#000"/>
<circle cx="564.9" cy="501.5" r="1.85" fill="#000"/>
<circle cx="571.4" cy="496.5" r="1.85" fill="#000"/>
<circle cx="560.2" cy="507.8" r="1.85" fill="#000"/>
<circle cx="583.2" cy="484.5" r="1.85" fill="#000"/>
<circle cx="586.5" cy="488.3" r="1.85" fill="#000"/>
<circle cx="583.2" cy="494.0" r="1.85" fill="#000"/>
<circle cx="586.5" cy="495.3" r="1.85" fill="#000"/>
<circle cx="581.5" cy="497.8" r="1.85" fill="#000"/>
<circle cx="587.7" cy="499.0" r="1.85" fill="#000"/>
<circle cx="585.0" cy="500.8" r="1.85" fill="#000"/>
<circle cx="580.2" cy="502.8" r="1.85" fill="#000"/>
<circle cx="589.0" cy="502.8" r="1.85" fill="#000"/>
<circle cx="582.7" cy="505.3" r="1.85" fill="#000"/>
<circle cx="587.7" cy="506.5" r="1.85" fill="#000"/>
<circle cx="585.0" cy="507.8" r="1.85" fill="#000"/>
<circle cx="603.2" cy="486.5" r="1.85" fill="#000"/>
<circle cx="605.7" cy="485.3" r="1.85" fill="#000"/>
<circle cx="604.0" cy="489.0" r="1.85" fill="#000"/>
<circle cx="606.5" cy="490.8" r="1.85" fill="#000"/>
<circle cx="602.7" cy="500.3" r="1.85" fill="#000"/>
<circle cx="607.3" cy="501.5" r="1.85" fill="#000"/>
<circle cx="605.0" cy="504.0" r="1.85" fill="#000"/>
<circle cx="600.2" cy="506.5" r="1.85" fill="#000"/>
<circle cx="609.0" cy="507.3" r="1.85" fill="#000"/>
<circle cx="625.1" cy="489.1" r="1.85" fill="#000"/>
<circle cx="625.1" cy="494.9" r="1.85" fill="#000"/>
<circle cx="625.1" cy="501.1" r="1.85" fill="#000"/>
<circle cx="621.8" cy="506.1" r="1.85" fill="#000"/>
<circle cx="628.3" cy="506.1" r="1.85" fill="#000"/>
<circle cx="625.1" cy="504.8" r="1.85" fill="#000"/>
<circle cx="620.1" cy="508.6" r="1.85" fill="#000"/>
<circle cx="630.1" cy="507.8" r="1.85" fill="#000"/>
<circle cx="625.1" cy="509.8" r="1.85" fill="#000"/>
<circle cx="627.6" cy="509.3" r="1.85" fill="#000"/>
<circle cx="643.3" cy="491.6" r="1.85" fill="#000"/>
<circle cx="646.8" cy="494.1" r="1.85" fill="#000"/>
<circle cx="641.3" cy="497.4" r="1.85" fill="#000"/>
<circle cx="648.8" cy="498.6" r="1.85" fill="#000"/>
<circle cx="645.1" cy="499.9" r="1.85" fill="#000"/>
<circle cx="638.8" cy="502.3" r="1.85" fill="#000"/>
<circle cx="643.3" cy="502.8" r="1.85" fill="#000"/>
<circle cx="651.3" cy="502.3" r="1.85" fill="#000"/>
<circle cx="647.5" cy="506.1" r="1.85" fill="#000"/>
<circle cx="638.8" cy="507.3" r="1.85" fill="#000"/>
<circle cx="651.3" cy="506.8" r="1.85" fill="#000"/>
<circle cx="665.3" cy="501.1" r="1.85" fill="#000"/>
<circle cx="668.8" cy="502.8" r="1.85" fill="#000"/>
<circle cx="662.5" cy="504.8" r="1.85" fill="#000"/>
<circle cx="666.3" cy="506.1" r="1.85" fill="#000"/>
<circle cx="670.0" cy="506.1" r="1.85" fill="#000"/>
<circle cx="660.0" cy="507.3" r="1.85" fill="#000"/>
<circle cx="663.8" cy="507.8" r="1.85" fill="#000"/>
<circle cx="667.5" cy="508.6" r="1.85" fill="#000"/>
<circle cx="671.3" cy="508.1" r="1.85" fill="#000"/>
<circle cx="661.3" cy="509.1" r="1.85" fill="#000"/>
<circle cx="665.3" cy="509.3" r="1.85" fill="#000"/>
<text transform="translate(0.3,595.2) scale(0.97,1)" font-size="30" font-weight="bold" fill="#000">d</text>
<path d="M 76.4 603.3 L 76.4 777.1" stroke="#1a1a1a" stroke-width="1.1" fill="none"/>
<path d="M 69.4 777.10 L 76.4 777.10" stroke="#1a1a1a" stroke-width="1.1"/>
<text x="67.6" y="781.90" font-size="13.4" font-weight="bold" text-anchor="end" fill="#000">0</text>
<path d="M 69.4 752.27 L 76.4 752.27" stroke="#1a1a1a" stroke-width="1.1"/>
<text x="67.6" y="757.06" font-size="13.4" font-weight="bold" text-anchor="end" fill="#000">25</text>
<path d="M 69.4 727.44 L 76.4 727.44" stroke="#1a1a1a" stroke-width="1.1"/>
<text x="67.6" y="732.23" font-size="13.4" font-weight="bold" text-anchor="end" fill="#000">50</text>
<path d="M 69.4 702.60 L 76.4 702.60" stroke="#1a1a1a" stroke-width="1.1"/>
<text x="67.6" y="707.40" font-size="13.4" font-weight="bold" text-anchor="end" fill="#000">75</text>
<path d="M 69.4 677.77 L 76.4 677.77" stroke="#1a1a1a" stroke-width="1.1"/>
<text x="67.6" y="682.57" font-size="13.4" font-weight="bold" text-anchor="end" fill="#000">100</text>
<path d="M 69.4 652.94 L 76.4 652.94" stroke="#1a1a1a" stroke-width="1.1"/>
<text x="67.6" y="657.73" font-size="13.4" font-weight="bold" text-anchor="end" fill="#000">125</text>
<path d="M 69.4 628.11 L 76.4 628.11" stroke="#1a1a1a" stroke-width="1.1"/>
<text x="67.6" y="632.90" font-size="13.4" font-weight="bold" text-anchor="end" fill="#000">150</text>
<path d="M 69.4 603.27 L 76.4 603.27" stroke="#1a1a1a" stroke-width="1.1"/>
<text x="67.6" y="608.07" font-size="13.4" font-weight="bold" text-anchor="end" fill="#000">175</text>
<text transform="translate(36.5,687.3) rotate(-90)" font-size="13.5" font-weight="bold" text-anchor="middle" fill="#000">Relative tumor size (%)</text>
<path d="M 69.4 777.1 L 316 777.1" stroke="#1a1a1a" stroke-width="1.1"/>
<rect x="84.40" y="761.51" width="15" height="15.59" fill="#d9d9d9" stroke="#262626" stroke-width="0.95"/>
<path d="M 91.90 759.52 L 91.90 763.49 M 87.40 759.52 L 96.40 759.52 M 87.40 763.49 L 96.40 763.49" stroke="#111" stroke-width="1.1" fill="none"/>
<rect x="104.40" y="720.68" width="15" height="56.42" fill="#7f7f7f" stroke="#262626" stroke-width="0.95"/>
<path d="M 111.90 708.56 L 111.90 732.80 M 107.40 708.56 L 116.40 708.56 M 107.40 732.80 L 116.40 732.80" stroke="#111" stroke-width="1.1" fill="none"/>
<text x="102.7" y="793.2" font-size="11.8" text-anchor="middle" fill="#000">Pat 8</text>
<rect x="147.00" y="743.43" width="15" height="33.67" fill="#d9d9d9" stroke="#262626" stroke-width="0.95"/>
<path d="M 154.50 732.80 L 154.50 754.06 M 150.00 732.80 L 159.00 732.80 M 150.00 754.06 L 159.00 754.06" stroke="#111" stroke-width="1.1" fill="none"/>
<rect x="166.40" y="745.51" width="15" height="31.59" fill="#7f7f7f" stroke="#262626" stroke-width="0.95"/>
<path d="M 173.90 736.28 L 173.90 754.75 M 169.40 736.28 L 178.40 736.28 M 169.40 754.75 L 178.40 754.75" stroke="#111" stroke-width="1.1" fill="none"/>
<text x="165.0" y="793.2" font-size="11.8" text-anchor="middle" fill="#000">Pat 12</text>
<rect x="209.50" y="734.49" width="15" height="42.61" fill="#d9d9d9" stroke="#262626" stroke-width="0.95"/>
<path d="M 217.00 718.99 L 217.00 749.98 M 212.50 718.99 L 221.50 718.99 M 212.50 749.98 L 221.50 749.98" stroke="#111" stroke-width="1.1" fill="none"/>
<rect x="228.90" y="743.33" width="15" height="33.77" fill="#7f7f7f" stroke="#262626" stroke-width="0.95"/>
<path d="M 236.40 737.37 L 236.40 749.29 M 231.90 737.37 L 240.90 737.37 M 231.90 749.29 L 240.90 749.29" stroke="#111" stroke-width="1.1" fill="none"/>
<text x="227.5" y="793.2" font-size="11.8" text-anchor="middle" fill="#000">Pat 21</text>
<rect x="271.60" y="751.27" width="15" height="25.83" fill="#d9d9d9" stroke="#262626" stroke-width="0.95"/>
<path d="M 279.10 745.51 L 279.10 757.04 M 274.60 745.51 L 283.60 745.51 M 274.60 757.04 L 283.60 757.04" stroke="#111" stroke-width="1.1" fill="none"/>
<rect x="291.10" y="764.29" width="15" height="12.81" fill="#7f7f7f" stroke="#262626" stroke-width="0.95"/>
<path d="M 298.60 762.00 L 298.60 766.57 M 294.10 762.00 L 303.10 762.00 M 294.10 766.57 L 303.10 766.57" stroke="#111" stroke-width="1.1" fill="none"/>
<text x="289.7" y="793.2" font-size="11.8" text-anchor="middle" fill="#000">Pat 22</text>
<path d="M 76.9 757.3 L 316 757.3" stroke="#f01010" stroke-width="1.7" stroke-dasharray="6 2.7" fill="none"/>
<rect x="246.3" y="603.7" width="13.3" height="8.8" fill="#d9d9d9" stroke="#222" stroke-width="0.8"/>
<rect x="246.3" y="616.7" width="13.3" height="8.8" fill="#7f7f7f" stroke="#222" stroke-width="0.8"/>
<text x="262.40000000000003" y="612.2" font-size="10.75" fill="#111">Primary tumors</text>
<text x="262.40000000000003" y="625.1" font-size="10.75" fill="#111">Metastases</text>
<path d="M 91.9 734 L 91.9 586.5 L 111.9 586.5 L 111.9 596.3" stroke="#333" stroke-width="1.0" fill="none"/>
<text x="101.9" y="585.3" font-size="20" text-anchor="middle" fill="#111">**</text>
<path d="M 279.2 688.6 L 279.2 677.4 L 299.8 677.4 L 299.8 735" stroke="#333" stroke-width="1.0" fill="none"/>
<text x="289.5" y="676.8" font-size="20" text-anchor="middle" fill="#111">*</text>
<circle cx="92.4" cy="745.4" r="1.85" fill="#000"/>
<circle cx="89.4" cy="748.7" r="1.85" fill="#000"/>
<circle cx="94.4" cy="748.7" r="1.85" fill="#000"/>
<circle cx="86.1" cy="759.9" r="1.85" fill="#000"/>
<circle cx="90.4" cy="761.2" r="1.85" fill="#000"/>
<circle cx="94.9" cy="760.7" r="1.85" fill="#000"/>
<circle cx="98.6" cy="761.9" r="1.85" fill="#000"/>
<circle cx="87.4" cy="764.9" r="1.85" fill="#000"/>
<circle cx="92.9" cy="765.4" r="1.85" fill="#000"/>
<circle cx="97.4" cy="765.4" r="1.85" fill="#000"/>
<circle cx="89.4" cy="768.6" r="1.85" fill="#000"/>
<circle cx="95.4" cy="769.4" r="1.85" fill="#000"/>
<circle cx="86.1" cy="771.1" r="1.85" fill="#000"/>
<circle cx="91.9" cy="774.1" r="1.85" fill="#000"/>
<circle cx="97.4" cy="772.4" r="1.85" fill="#000"/>
<circle cx="105.3" cy="708.7" r="1.85" fill="#000"/>
<circle cx="111.6" cy="733.0" r="1.85" fill="#000"/>
<circle cx="111.6" cy="743.7" r="1.85" fill="#000"/>
<circle cx="106.1" cy="749.9" r="1.85" fill="#000"/>
<circle cx="116.1" cy="751.9" r="1.85" fill="#000"/>
<circle cx="111.6" cy="753.7" r="1.85" fill="#000"/>
<circle cx="105.3" cy="759.4" r="1.85" fill="#000"/>
<circle cx="114.8" cy="758.7" r="1.85" fill="#000"/>
<circle cx="111.6" cy="764.4" r="1.85" fill="#000"/>
<circle cx="117.3" cy="763.7" r="1.85" fill="#000"/>
<circle cx="111.6" cy="772.4" r="1.85" fill="#000"/>
<circle cx="111.9" cy="607.1" r="1.85" fill="#000"/>
<circle cx="111.9" cy="643.1" r="1.85" fill="#000"/>
<circle cx="111.9" cy="675.2" r="1.85" fill="#000"/>
<circle cx="111.9" cy="679.4" r="1.85" fill="#000"/>
<circle cx="111.9" cy="683.9" r="1.85" fill="#000"/>
<circle cx="154.5" cy="654.8" r="1.85" fill="#000"/>
<circle cx="154.5" cy="660.6" r="1.85" fill="#000"/>
<circle cx="154.5" cy="674.1" r="1.85" fill="#000"/>
<circle cx="154.5" cy="724.4" r="1.85" fill="#000"/>
<circle cx="154.5" cy="737.5" r="1.85" fill="#000"/>
<circle cx="154.5" cy="753.2" r="1.85" fill="#000"/>
<circle cx="154.5" cy="760.7" r="1.85" fill="#000"/>
<circle cx="149.5" cy="768.3" r="1.85" fill="#000"/>
<circle cx="152.5" cy="768.3" r="1.85" fill="#000"/>
<circle cx="156.3" cy="768.3" r="1.85" fill="#000"/>
<circle cx="159.5" cy="767.8" r="1.85" fill="#000"/>
<circle cx="154.5" cy="771.3" r="1.85" fill="#000"/>
<circle cx="154.5" cy="775.8" r="1.85" fill="#000"/>
<circle cx="173.8" cy="689.1" r="1.85" fill="#000"/>
<circle cx="173.8" cy="691.6" r="1.85" fill="#000"/>
<circle cx="173.8" cy="697.4" r="1.85" fill="#000"/>
<circle cx="173.8" cy="704.2" r="1.85" fill="#000"/>
<circle cx="173.8" cy="713.7" r="1.85" fill="#000"/>
<circle cx="173.8" cy="748.7" r="1.85" fill="#000"/>
<circle cx="173.8" cy="756.2" r="1.85" fill="#000"/>
<circle cx="170.0" cy="766.3" r="1.85" fill="#000"/>
<circle cx="177.6" cy="766.8" r="1.85" fill="#000"/>
<circle cx="173.8" cy="770.0" r="1.85" fill="#000"/>
<circle cx="168.0" cy="775.0" r="1.85" fill="#000"/>
<circle cx="172.0" cy="774.5" r="1.85" fill="#000"/>
<circle cx="176.3" cy="775.0" r="1.85" fill="#000"/>
<circle cx="180.1" cy="775.0" r="1.85" fill="#000"/>
<circle cx="173.8" cy="776.8" r="1.85" fill="#000"/>
<circle cx="216.9" cy="620.5" r="1.85" fill="#000"/>
<circle cx="216.9" cy="690.6" r="1.85" fill="#000"/>
<circle cx="216.9" cy="718.7" r="1.85" fill="#000"/>
<circle cx="216.9" cy="740.7" r="1.85" fill="#000"/>
<circle cx="216.9" cy="753.7" r="1.85" fill="#000"/>
<circle cx="211.4" cy="760.5" r="1.85" fill="#000"/>
<circle cx="221.4" cy="760.0" r="1.85" fill="#000"/>
<circle cx="220.1" cy="768.3" r="1.85" fill="#000"/>
<circle cx="213.9" cy="771.8" r="1.85" fill="#000"/>
<circle cx="216.9" cy="756.2" r="1.85" fill="#000"/>
<circle cx="236.4" cy="711.2" r="1.85" fill="#000"/>
<circle cx="236.4" cy="716.7" r="1.85" fill="#000"/>
<circle cx="236.4" cy="727.9" r="1.85" fill="#000"/>
<circle cx="236.4" cy="732.5" r="1.85" fill="#000"/>
<circle cx="236.4" cy="738.7" r="1.85" fill="#000"/>
<circle cx="232.6" cy="747.5" r="1.85" fill="#000"/>
<circle cx="239.6" cy="746.7" r="1.85" fill="#000"/>
<circle cx="232.6" cy="755.0" r="1.85" fill="#000"/>
<circle cx="239.6" cy="754.2" r="1.85" fill="#000"/>
<circle cx="232.6" cy="761.2" r="1.85" fill="#000"/>
<circle cx="239.6" cy="760.7" r="1.85" fill="#000"/>
<circle cx="236.4" cy="768.8" r="1.85" fill="#000"/>
<circle cx="236.4" cy="763.0" r="1.85" fill="#000"/>
<circle cx="279.0" cy="696.7" r="1.85" fill="#000"/>
<circle cx="279.0" cy="720.4" r="1.85" fill="#000"/>
<circle cx="279.0" cy="735.5" r="1.85" fill="#000"/>
<circle cx="279.0" cy="743.7" r="1.85" fill="#000"/>
<circle cx="276.5" cy="749.2" r="1.85" fill="#000"/>
<circle cx="281.5" cy="750.0" r="1.85" fill="#000"/>
<circle cx="279.0" cy="753.7" r="1.85" fill="#000"/>
<circle cx="274.0" cy="764.3" r="1.85" fill="#000"/>
<circle cx="277.7" cy="765.0" r="1.85" fill="#000"/>
<circle cx="281.5" cy="764.3" r="1.85" fill="#000"/>
<circle cx="284.7" cy="763.8" r="1.85" fill="#000"/>
<circle cx="276.5" cy="768.8" r="1.85" fill="#000"/>
<circle cx="282.2" cy="768.3" r="1.85" fill="#000"/>
<circle cx="279.0" cy="758.7" r="1.85" fill="#000"/>
<circle cx="298.5" cy="745.5" r="1.85" fill="#000"/>
<circle cx="298.5" cy="751.7" r="1.85" fill="#000"/>
<circle cx="295.2" cy="758.7" r="1.85" fill="#000"/>
<circle cx="301.5" cy="759.2" r="1.85" fill="#000"/>
<circle cx="292.7" cy="761.7" r="1.85" fill="#000"/>
<circle cx="298.5" cy="761.2" r="1.85" fill="#000"/>
<circle cx="304.0" cy="761.2" r="1.85" fill="#000"/>
<circle cx="295.2" cy="764.3" r="1.85" fill="#000"/>
<circle cx="301.5" cy="765.0" r="1.85" fill="#000"/>
<circle cx="292.7" cy="766.8" r="1.85" fill="#000"/>
<circle cx="298.5" cy="767.5" r="1.85" fill="#000"/>
<circle cx="304.0" cy="766.8" r="1.85" fill="#000"/>
<circle cx="295.2" cy="770.0" r="1.85" fill="#000"/>
<circle cx="301.5" cy="770.0" r="1.85" fill="#000"/>
<circle cx="298.5" cy="772.5" r="1.85" fill="#000"/>
<circle cx="298.5" cy="775.0" r="1.85" fill="#000"/>
<text transform="translate(374.3,594.0) scale(0.95,1)" font-size="31" font-weight="bold" fill="#000">e</text>
<path d="M 425.6 603.8 L 425.6 777.1" stroke="#1a1a1a" stroke-width="1.1" fill="none"/>
<path d="M 418.3 777.10 L 425.6 777.10" stroke="#1a1a1a" stroke-width="1.1"/>
<text x="417.1" y="781.90" font-size="13.4" font-weight="bold" text-anchor="end" fill="#000">0</text>
<path d="M 418.3 759.78 L 425.6 759.78" stroke="#1a1a1a" stroke-width="1.1"/>
<text x="417.1" y="764.58" font-size="13.4" font-weight="bold" text-anchor="end" fill="#000">2</text>
<path d="M 418.3 742.46 L 425.6 742.46" stroke="#1a1a1a" stroke-width="1.1"/>
<text x="417.1" y="747.26" font-size="13.4" font-weight="bold" text-anchor="end" fill="#000">4</text>
<path d="M 418.3 725.14 L 425.6 725.14" stroke="#1a1a1a" stroke-width="1.1"/>
<text x="417.1" y="729.94" font-size="13.4" font-weight="bold" text-anchor="end" fill="#000">6</text>
<path d="M 418.3 707.82 L 425.6 707.82" stroke="#1a1a1a" stroke-width="1.1"/>
<text x="417.1" y="712.62" font-size="13.4" font-weight="bold" text-anchor="end" fill="#000">8</text>
<path d="M 418.3 690.50 L 425.6 690.50" stroke="#1a1a1a" stroke-width="1.1"/>
<text x="417.1" y="695.30" font-size="13.4" font-weight="bold" text-anchor="end" fill="#000">10</text>
<path d="M 418.3 673.18 L 425.6 673.18" stroke="#1a1a1a" stroke-width="1.1"/>
<text x="417.1" y="677.98" font-size="13.4" font-weight="bold" text-anchor="end" fill="#000">12</text>
<path d="M 418.3 655.86 L 425.6 655.86" stroke="#1a1a1a" stroke-width="1.1"/>
<text x="417.1" y="660.66" font-size="13.4" font-weight="bold" text-anchor="end" fill="#000">14</text>
<path d="M 418.3 638.54 L 425.6 638.54" stroke="#1a1a1a" stroke-width="1.1"/>
<text x="417.1" y="643.34" font-size="13.4" font-weight="bold" text-anchor="end" fill="#000">16</text>
<path d="M 418.3 621.22 L 425.6 621.22" stroke="#1a1a1a" stroke-width="1.1"/>
<text x="417.1" y="626.02" font-size="13.4" font-weight="bold" text-anchor="end" fill="#000">18</text>
<path d="M 418.3 603.90 L 425.6 603.90" stroke="#1a1a1a" stroke-width="1.1"/>
<text x="417.1" y="608.70" font-size="13.4" font-weight="bold" text-anchor="end" fill="#000">20</text>
<text transform="translate(394.2,690.5) rotate(-90)" font-size="13.5" font-weight="bold" text-anchor="middle" fill="#000">No. metastasized cells</text>
<path d="M 418.3 777.1 L 664.3 777.1" stroke="#1a1a1a" stroke-width="1.1"/>
<rect x="433.40" y="732.33" width="15" height="44.77" fill="#d9d9d9" stroke="#262626" stroke-width="0.95"/>
<path d="M 440.90 721.07 L 440.90 743.59 M 436.40 721.07 L 445.40 721.07 M 436.40 743.59 L 445.40 743.59" stroke="#111" stroke-width="1.1" fill="none"/>
<rect x="452.90" y="748.52" width="15" height="28.58" fill="#7f7f7f" stroke="#262626" stroke-width="0.95"/>
<path d="M 460.40 744.19 L 460.40 752.85 M 455.90 744.19 L 464.90 744.19 M 455.90 752.85 L 464.90 752.85" stroke="#111" stroke-width="1.1" fill="none"/>
<text x="451.3" y="793.2" font-size="11.8" text-anchor="middle" fill="#000">Pat 8</text>
<rect x="495.80" y="767.57" width="15" height="9.53" fill="#d9d9d9" stroke="#262626" stroke-width="0.95"/>
<path d="M 503.30 763.24 L 503.30 771.90 M 498.80 763.24 L 507.80 763.24 M 498.80 771.90 L 507.80 771.90" stroke="#111" stroke-width="1.1" fill="none"/>
<rect x="515.40" y="763.59" width="15" height="13.51" fill="#7f7f7f" stroke="#262626" stroke-width="0.95"/>
<path d="M 522.90 757.87 L 522.90 769.31 M 518.40 757.87 L 527.40 757.87 M 518.40 769.31 L 527.40 769.31" stroke="#111" stroke-width="1.1" fill="none"/>
<text x="513.8" y="793.2" font-size="11.8" text-anchor="middle" fill="#000">Pat 12</text>
<rect x="557.90" y="741.77" width="15" height="35.33" fill="#d9d9d9" stroke="#262626" stroke-width="0.95"/>
<path d="M 565.40 733.11 L 565.40 750.43 M 560.90 733.11 L 569.90 733.11 M 560.90 750.43 L 569.90 750.43" stroke="#111" stroke-width="1.1" fill="none"/>
<rect x="577.50" y="699.16" width="15" height="77.94" fill="#7f7f7f" stroke="#262626" stroke-width="0.95"/>
<path d="M 585.00 690.07 L 585.00 708.25 M 580.50 690.07 L 589.50 690.07 M 580.50 708.25 L 589.50 708.25" stroke="#111" stroke-width="1.1" fill="none"/>
<text x="575.9" y="793.2" font-size="11.8" text-anchor="middle" fill="#000">Pat 21</text>
<rect x="620.20" y="769.91" width="15" height="7.19" fill="#d9d9d9" stroke="#262626" stroke-width="0.95"/>
<path d="M 627.70 764.89 L 627.70 774.94 M 623.20 764.89 L 632.20 764.89 M 623.20 774.94 L 632.20 774.94" stroke="#111" stroke-width="1.1" fill="none"/>
<rect x="639.70" y="748.78" width="15" height="28.32" fill="#7f7f7f" stroke="#262626" stroke-width="0.95"/>
<path d="M 647.20 741.85 L 647.20 755.71 M 642.70 741.85 L 651.70 741.85 M 642.70 755.71 L 651.70 755.71" stroke="#111" stroke-width="1.1" fill="none"/>
<text x="638.2" y="793.2" font-size="11.8" text-anchor="middle" fill="#000">Pat 22</text>
<path d="M 426 725.2 L 664.3 725.2" stroke="#f01010" stroke-width="1.7" stroke-dasharray="6 2.7" fill="none"/>
<rect x="595.2" y="592.7" width="13.3" height="8.8" fill="#d9d9d9" stroke="#222" stroke-width="0.8"/>
<rect x="595.2" y="605.7" width="13.3" height="8.8" fill="#7f7f7f" stroke="#222" stroke-width="0.8"/>
<text x="611.3000000000001" y="601.2" font-size="10.75" fill="#111">Primary tumors</text>
<text x="611.3000000000001" y="614.1" font-size="10.75" fill="#111">Metastases</text>
<path d="M 565.4 682.2 L 565.4 623.3 L 584.9 623.3 L 584.9 631.4" stroke="#333" stroke-width="1.0" fill="none"/>
<text x="575.15" y="623.2" font-size="20" text-anchor="middle" fill="#111">**</text>
<path d="M 627.6 703.9 L 627.6 640.9 L 647.1 640.9 L 647.1 649" stroke="#333" stroke-width="1.0" fill="none"/>
<text x="637.35" y="639.4" font-size="20" text-anchor="middle" fill="#111">**</text>
<circle cx="440.9" cy="638.5" r="1.85" fill="#000"/>
<circle cx="440.9" cy="647.2" r="1.85" fill="#000"/>
<circle cx="440.9" cy="681.8" r="1.85" fill="#000"/>
<circle cx="440.9" cy="699.2" r="1.85" fill="#000"/>
<circle cx="440.9" cy="716.5" r="1.85" fill="#000"/>
<circle cx="440.9" cy="725.1" r="1.85" fill="#000"/>
<circle cx="440.9" cy="742.5" r="1.85" fill="#000"/>
<circle cx="438.9" cy="751.1" r="1.85" fill="#000"/>
<circle cx="442.9" cy="751.1" r="1.85" fill="#000"/>
<circle cx="440.9" cy="759.8" r="1.85" fill="#000"/>
<circle cx="440.9" cy="768.4" r="1.85" fill="#000"/>
<circle cx="435.5" cy="777.1" r="1.85" fill="#000"/>
<circle cx="439.1" cy="777.1" r="1.85" fill="#000"/>
<circle cx="442.7" cy="777.1" r="1.85" fill="#000"/>
<circle cx="446.3" cy="777.1" r="1.85" fill="#000"/>
<circle cx="460.4" cy="707.8" r="1.85" fill="#000"/>
<circle cx="460.4" cy="716.5" r="1.85" fill="#000"/>
<circle cx="457.0" cy="725.1" r="1.85" fill="#000"/>
<circle cx="460.4" cy="725.1" r="1.85" fill="#000"/>
<circle cx="463.8" cy="725.1" r="1.85" fill="#000"/>
<circle cx="460.4" cy="733.8" r="1.85" fill="#000"/>
<circle cx="453.6" cy="742.5" r="1.85" fill="#000"/>
<circle cx="457.0" cy="742.5" r="1.85" fill="#000"/>
<circle cx="460.4" cy="742.5" r="1.85" fill="#000"/>
<circle cx="463.8" cy="742.5" r="1.85" fill="#000"/>
<circle cx="467.2" cy="742.5" r="1.85" fill="#000"/>
<circle cx="458.7" cy="751.1" r="1.85" fill="#000"/>
<circle cx="462.1" cy="751.1" r="1.85" fill="#000"/>
<circle cx="453.6" cy="759.8" r="1.85" fill="#000"/>
<circle cx="457.0" cy="759.8" r="1.85" fill="#000"/>
<circle cx="460.4" cy="759.8" r="1.85" fill="#000"/>
<circle cx="463.8" cy="759.8" r="1.85" fill="#000"/>
<circle cx="467.2" cy="759.8" r="1.85" fill="#000"/>
<circle cx="457.0" cy="768.4" r="1.85" fill="#000"/>
<circle cx="460.4" cy="768.4" r="1.85" fill="#000"/>
<circle cx="463.8" cy="768.4" r="1.85" fill="#000"/>
<circle cx="458.4" cy="777.1" r="1.85" fill="#000"/>
<circle cx="462.4" cy="777.1" r="1.85" fill="#000"/>
<circle cx="503.3" cy="716.5" r="1.85" fill="#000"/>
<circle cx="503.3" cy="751.1" r="1.85" fill="#000"/>
<circle cx="502.0" cy="759.8" r="1.85" fill="#000"/>
<circle cx="504.6" cy="759.8" r="1.85" fill="#000"/>
<circle cx="502.1" cy="768.4" r="1.85" fill="#000"/>
<circle cx="504.5" cy="768.4" r="1.85" fill="#000"/>
<circle cx="496.5" cy="777.1" r="1.85" fill="#000"/>
<circle cx="498.2" cy="777.1" r="1.85" fill="#000"/>
<circle cx="499.9" cy="777.1" r="1.85" fill="#000"/>
<circle cx="501.6" cy="777.1" r="1.85" fill="#000"/>
<circle cx="503.3" cy="777.1" r="1.85" fill="#000"/>
<circle cx="505.0" cy="777.1" r="1.85" fill="#000"/>
<circle cx="506.7" cy="777.1" r="1.85" fill="#000"/>
<circle cx="508.4" cy="777.1" r="1.85" fill="#000"/>
<circle cx="510.1" cy="777.1" r="1.85" fill="#000"/>
<circle cx="521.9" cy="716.5" r="1.85" fill="#000"/>
<circle cx="523.9" cy="716.5" r="1.85" fill="#000"/>
<circle cx="522.9" cy="733.8" r="1.85" fill="#000"/>
<circle cx="521.9" cy="751.1" r="1.85" fill="#000"/>
<circle cx="523.9" cy="751.1" r="1.85" fill="#000"/>
<circle cx="516.1" cy="777.1" r="1.85" fill="#000"/>
<circle cx="517.8" cy="777.1" r="1.85" fill="#000"/>
<circle cx="519.5" cy="777.1" r="1.85" fill="#000"/>
<circle cx="521.2" cy="777.1" r="1.85" fill="#000"/>
<circle cx="522.9" cy="777.1" r="1.85" fill="#000"/>
<circle cx="524.6" cy="777.1" r="1.85" fill="#000"/>
<circle cx="526.3" cy="777.1" r="1.85" fill="#000"/>
<circle cx="528.0" cy="777.1" r="1.85" fill="#000"/>
<circle cx="529.7" cy="777.1" r="1.85" fill="#000"/>
<circle cx="565.4" cy="690.5" r="1.85" fill="#000"/>
<circle cx="565.4" cy="699.2" r="1.85" fill="#000"/>
<circle cx="561.4" cy="733.8" r="1.85" fill="#000"/>
<circle cx="569.4" cy="733.8" r="1.85" fill="#000"/>
<circle cx="561.4" cy="742.5" r="1.85" fill="#000"/>
<circle cx="565.4" cy="742.5" r="1.85" fill="#000"/>
<circle cx="569.4" cy="742.5" r="1.85" fill="#000"/>
<circle cx="561.4" cy="751.1" r="1.85" fill="#000"/>
<circle cx="569.4" cy="751.1" r="1.85" fill="#000"/>
<circle cx="565.4" cy="759.8" r="1.85" fill="#000"/>
<circle cx="561.4" cy="777.1" r="1.85" fill="#000"/>
<circle cx="569.4" cy="777.1" r="1.85" fill="#000"/>
<circle cx="585.0" cy="638.5" r="1.85" fill="#000"/>
<circle cx="585.0" cy="647.2" r="1.85" fill="#000"/>
<circle cx="585.0" cy="664.5" r="1.85" fill="#000"/>
<circle cx="578.2" cy="681.8" r="1.85" fill="#000"/>
<circle cx="581.6" cy="681.8" r="1.85" fill="#000"/>
<circle cx="585.0" cy="681.8" r="1.85" fill="#000"/>
<circle cx="588.4" cy="681.8" r="1.85" fill="#000"/>
<circle cx="591.8" cy="681.8" r="1.85" fill="#000"/>
<circle cx="585.0" cy="699.2" r="1.85" fill="#000"/>
<circle cx="583.0" cy="716.5" r="1.85" fill="#000"/>
<circle cx="587.0" cy="716.5" r="1.85" fill="#000"/>
<circle cx="583.0" cy="725.1" r="1.85" fill="#000"/>
<circle cx="587.0" cy="725.1" r="1.85" fill="#000"/>
<circle cx="585.0" cy="733.8" r="1.85" fill="#000"/>
<circle cx="585.0" cy="742.5" r="1.85" fill="#000"/>
<circle cx="585.0" cy="751.1" r="1.85" fill="#000"/>
<circle cx="627.7" cy="716.5" r="1.85" fill="#000"/>
<circle cx="627.7" cy="742.5" r="1.85" fill="#000"/>
<circle cx="627.7" cy="768.4" r="1.85" fill="#000"/>
<circle cx="620.9" cy="777.1" r="1.85" fill="#000"/>
<circle cx="622.6" cy="777.1" r="1.85" fill="#000"/>
<circle cx="624.3" cy="777.1" r="1.85" fill="#000"/>
<circle cx="626.0" cy="777.1" r="1.85" fill="#000"/>
<circle cx="627.7" cy="777.1" r="1.85" fill="#000"/>
<circle cx="629.4" cy="777.1" r="1.85" fill="#000"/>
<circle cx="631.1" cy="777.1" r="1.85" fill="#000"/>
<circle cx="632.8" cy="777.1" r="1.85" fill="#000"/>
<circle cx="634.5" cy="777.1" r="1.85" fill="#000"/>
<circle cx="647.2" cy="655.9" r="1.85" fill="#000"/>
<circle cx="647.2" cy="699.2" r="1.85" fill="#000"/>
<circle cx="647.2" cy="716.5" r="1.85" fill="#000"/>
<circle cx="647.2" cy="725.1" r="1.85" fill="#000"/>
<circle cx="647.2" cy="733.8" r="1.85" fill="#000"/>
<circle cx="643.8" cy="742.5" r="1.85" fill="#000"/>
<circle cx="647.2" cy="742.5" r="1.85" fill="#000"/>
<circle cx="650.6" cy="742.5" r="1.85" fill="#000"/>
<circle cx="645.2" cy="751.1" r="1.85" fill="#000"/>
<circle cx="649.2" cy="751.1" r="1.85" fill="#000"/>
<circle cx="645.2" cy="759.8" r="1.85" fill="#000"/>
<circle cx="649.2" cy="759.8" r="1.85" fill="#000"/>
<circle cx="645.2" cy="768.4" r="1.85" fill="#000"/>
<circle cx="649.2" cy="768.4" r="1.85" fill="#000"/>
<circle cx="640.4" cy="777.1" r="1.85" fill="#000"/>
<circle cx="643.8" cy="777.1" r="1.85" fill="#000"/>
<circle cx="647.2" cy="777.1" r="1.85" fill="#000"/>
<circle cx="650.6" cy="777.1" r="1.85" fill="#000"/>
<circle cx="654.0" cy="777.1" r="1.85" fill="#000"/>
</svg></body></html>
